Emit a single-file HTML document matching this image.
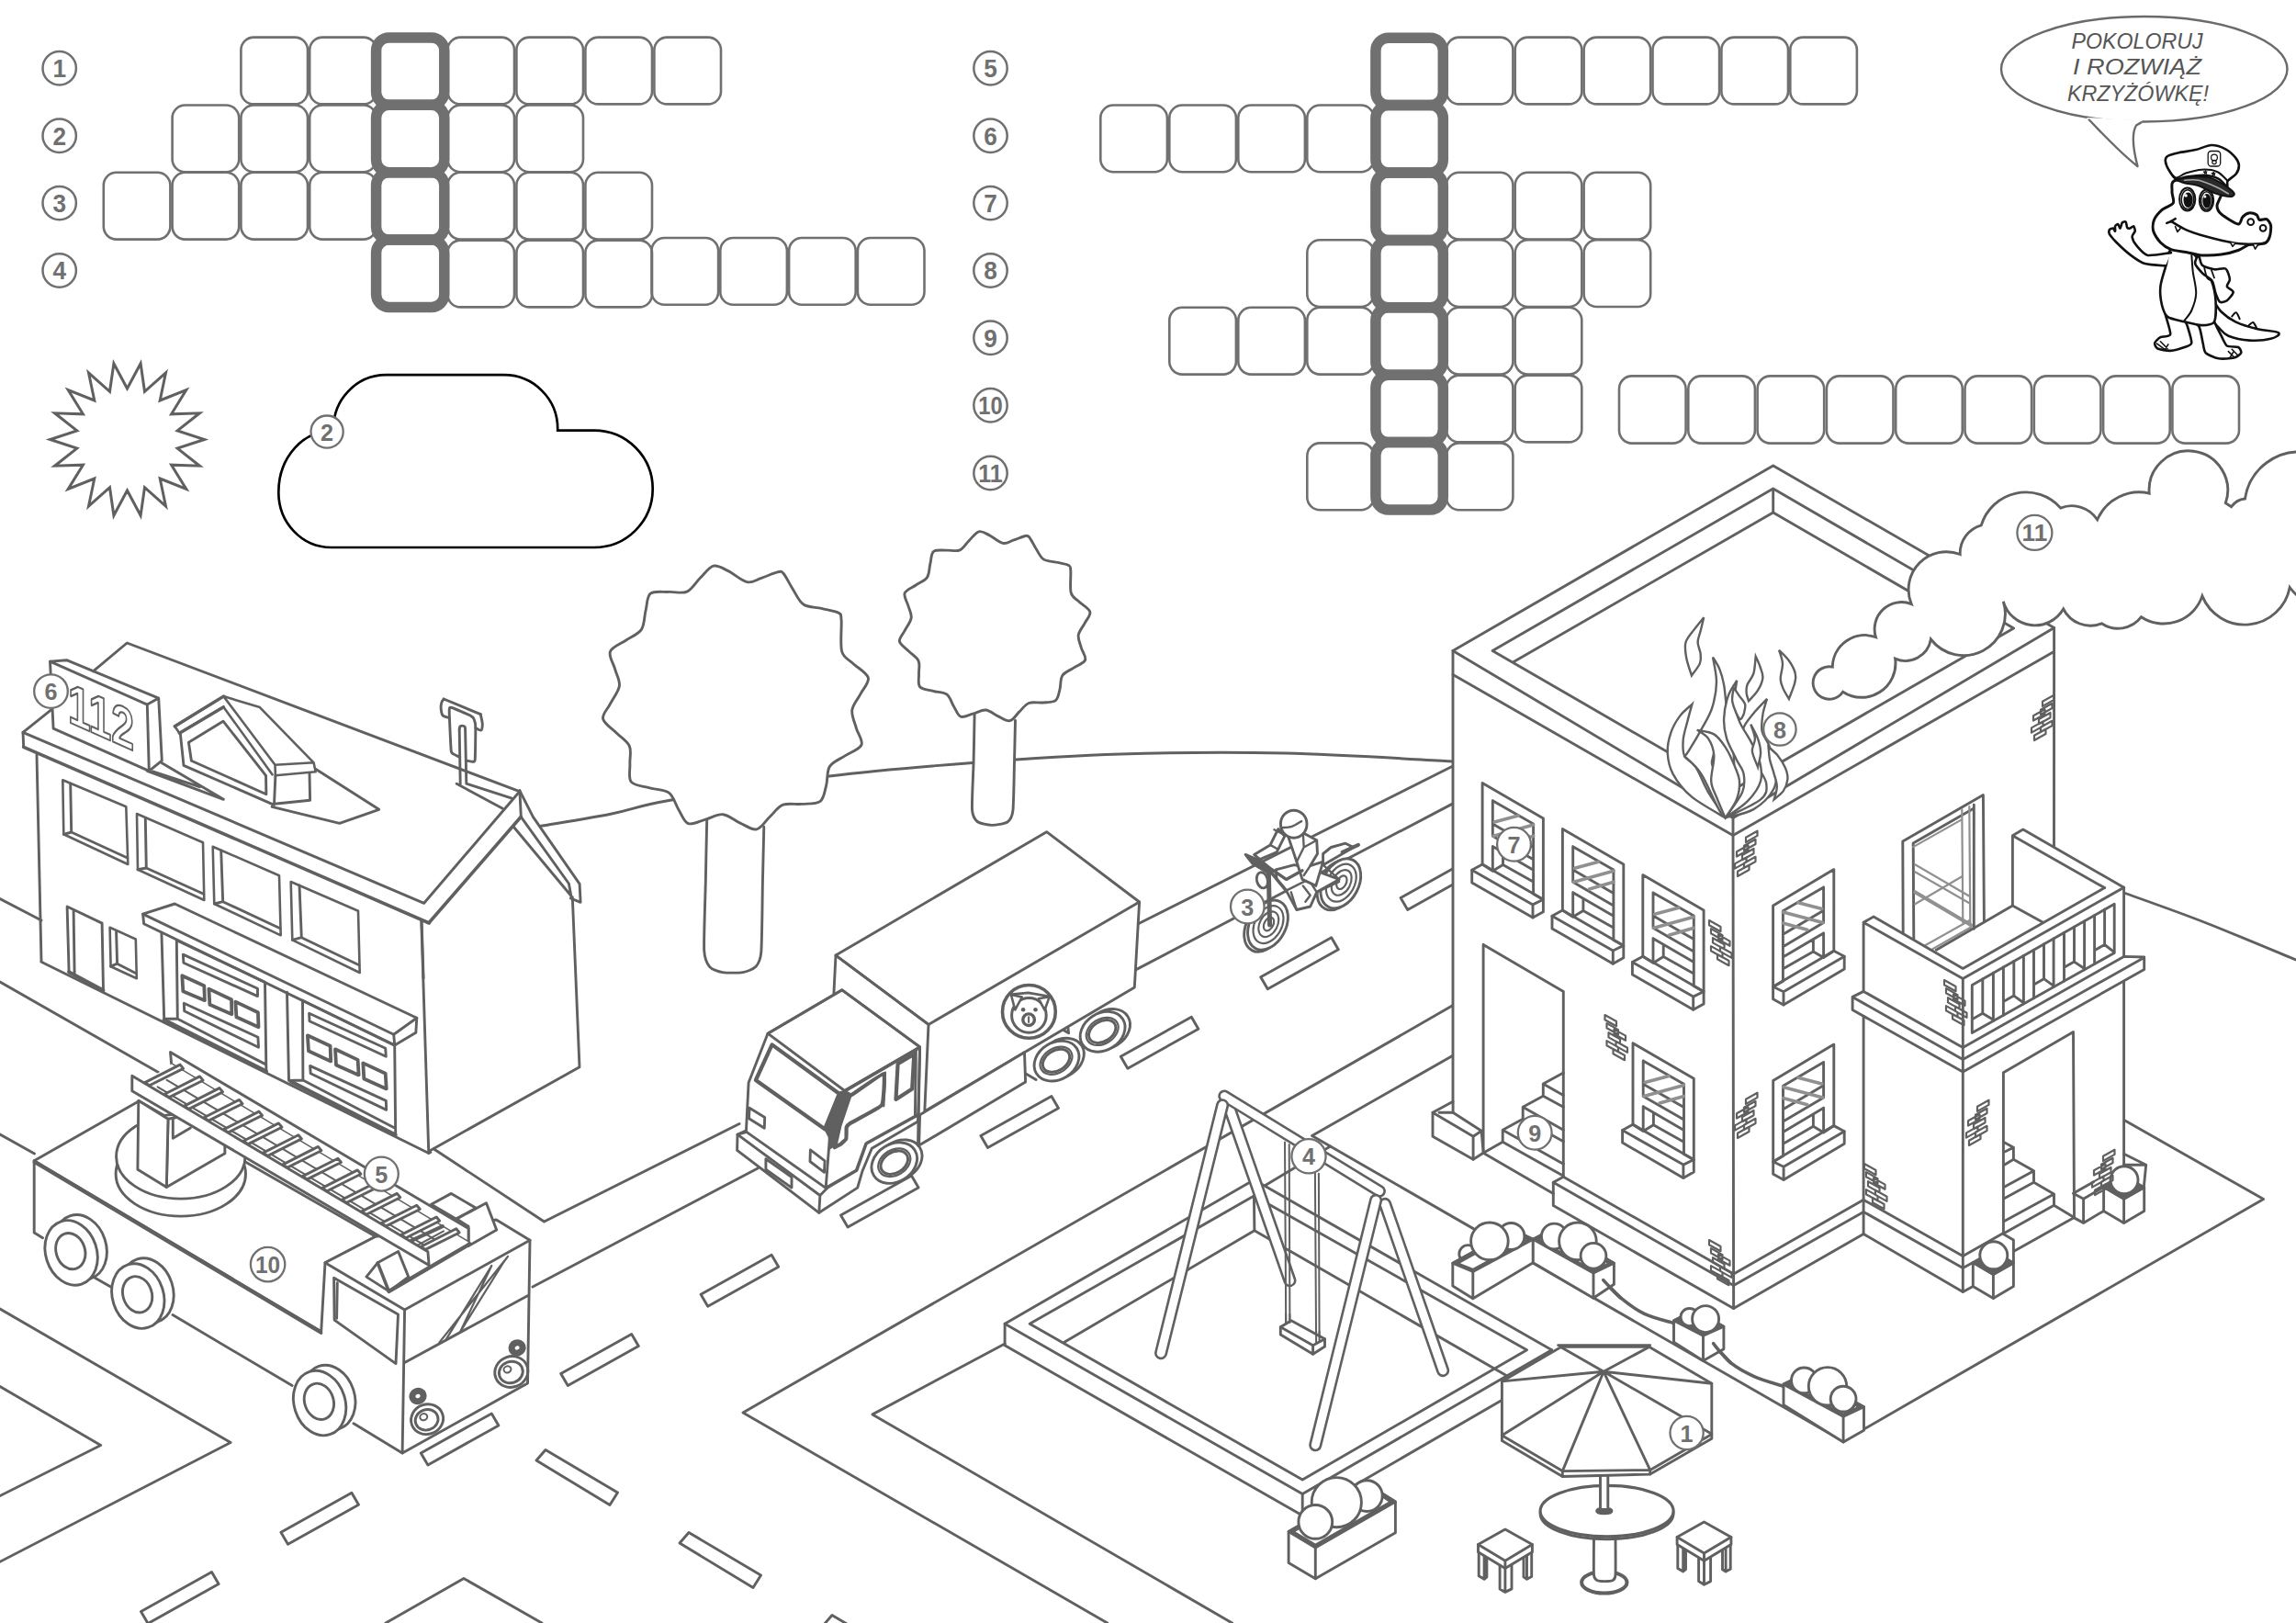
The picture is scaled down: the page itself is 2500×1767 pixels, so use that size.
<!DOCTYPE html>
<html lang="pl"><head><meta charset="utf-8"><title>Pokoloruj i rozwiąż krzyżówkę</title>
<style>
html,body{margin:0;padding:0;background:#fff;}
body{width:2500px;height:1767px;overflow:hidden;font-family:"Liberation Sans",sans-serif;}
svg{display:block;}
</style></head><body>
<svg xmlns="http://www.w3.org/2000/svg" width="2500" height="1767" viewBox="0 0 2500 1767">
<rect width="2500" height="1767" fill="#fff"/>
<g fill="none" stroke="#606060" stroke-width="2.9" stroke-linejoin="round" stroke-linecap="round">
<!-- sec_scene_bg -->
<path d="M0 978.5 L45 1002"/>
<path d="M0 1069 L172.5 1167.5"/>
<path d="M472.5 1251 L592.5 1330 L805 1223.5"/>
<path d="M0 1235 L37.5 1256"/>
<path d="M580 1401 L825 1272"/>
<path d="M0 1425 L251.1 1570.5 L0 1700.3"/>
<path d="M0 1509.5 L109.7 1573.5 L0 1628.5"/>
<path d="M420 1767 L505 1718.5 L590 1767"/>
<path d="M1582 1094.6 L809 1537.9 L1205.7 1767"/>
<path d="M1094.1 1463 L950 1539.9 L1341.6 1767"/>
<path d="M1581.9 1149.3 L1428.6 1236.6 L2007.4 1569.5"/>
<path d="M2028.8 1556.4 L2464.6 1305.6 L2312.5 1219.2"/>
<path d="M1376.9 1291.1 L1448.6 1248"/>
<path d="M2312.6 972 C2327.2 977.3 2368.8 991.8 2400 1004 C2431.2 1016.2 2483.3 1038.2 2500 1045"/>
<path d="M1238.4 1006.2 L1581 834.5"/>
<path d="M1236.6 1055.9 L1581 875.4"/>
<path d="M153.5 1754.6 l77 -43 l7.6 13 l-77 43Z M305.9 1668.2 l77 -43 l7.6 13 l-77 43Z M458.3 1581.9 l77 -43 l7.6 13 l-77 43Z M610.7 1495.6 l77 -43 l7.6 13 l-77 43Z M763.1 1409.2 l77 -43 l7.6 13 l-77 43Z M915.5 1322.9 l77 -43 l7.6 13 l-77 43Z M1067.9 1236.5 l77 -43 l7.6 13 l-77 43Z M1220.3 1150.2 l77 -43 l7.6 13 l-77 43Z M1372.7 1063.8 l77 -43 l7.6 13 l-77 43Z M1525.1 977.5 l77 -43 l7.6 13 l-77 43Z M584 1590 l10 -11.5 l78.5 46.5 l-8.5 13.5Z M740 1680 l10 -11.5 l78.5 46.5 l-8.5 13.5Z M896 1770 l10 -11.5 l78.5 46.5 l-8.5 13.5Z"/>
<!-- sec_station -->
<path d="M101.7 730.7 L138.3 700 L565.7 861.7 L461.7 983.3 L25 797.3 L55 773.3"/>
<path d="M25 797.3 L25.7 813.3"/>
<path d="M565.9 860.8 L567.3 889.3"/>
<path d="M25.7 813.3 L467.3 1005" stroke-width="3.6"/>
<path d="M467.2 1004.5 L567.3 889.3" stroke-width="3.6"/>
<path d="M565.9 860.8 L580.4 889.3 L631.1 962.4 L632.1 982.4 L621.4 978 M567.3 889.3 L619.4 962 L622 976.4 M559.3 900.3 L621.4 974.8"/>
<path d="M40 821.7 L45 1046.7"/>
<path d="M45 1047.2 L466.8 1255.5 L468.8 1254.5"/>
<path d="M459.1 1002.5 L461.1 1065"/>
<path d="M458.8 1003.1 L466.8 1255.5"/>
<path d="M623.3 976.7 L631 1161.7 L467.3 1253.3"/>
<path d="M54.5 720.1 L160.3 767.1 L162.3 839.3 L58.1 793.2Z" fill="#fff"/>
<path d="M54.5 720.1 L72.5 718.7 L172.7 760.1 L160.3 767.1 M172.7 760.1 L176.3 828.2 L162.3 839.3"/>
<path d="M190.3 790.8 L243.4 758.1 L282.9 770.1 L341.6 830.3 L343.6 840.3 L299.9 844.3 L299.5 832.7 L243.4 758.1 M190.3 790.8 L195.4 798.2 L243.4 769.7 L296.5 843.3 M299.5 832.7 L341.6 830.3" stroke-width="2.6"/>
<path d="M190.3 790.8 L243.4 758.1 M195.4 798.2 L243.4 769.7" stroke-width="3.4"/>
<path d="M196.4 799.2 L200 833.3 L298.5 876.3 L299.9 844.3 M298.5 875.3 L337.6 871.3 L337 842.3"/>
<path d="M205.4 808.2 L243 785.2 L289.5 844.3 L289.9 864.7 L208.4 828.2Z"/>
<path d="M160.3 839.3 L243.4 870.3 L176.3 830.7 M166.3 839.9 L217.4 856.7"/>
<path d="M343.6 837.3 L412.7 881.3 L369.7 896.4 L296.1 878.3"/>
<path d="M68.3 849.3 L137.3 878.3 L139.3 941 L69.3 908.3Z M149 886 L221 917.3 L222.3 980 L150 946.7Z M231.7 921.7 L304 953.3 L305.7 1018.3 L233.3 984Z M316.7 960 L390 991.7 L391.7 1059 L318.3 1023.3Z" stroke-width="2.6"/>
<path d="M76.7 853.3 L77.7 906 L138.7 934 M77.7 906 L69.3 908.3 M158.3 890.7 L159.3 945 L221.7 973.3 M159.3 945 L150 946.7 M240.7 926 L242.7 981.7 L305 1010.7 M242.7 981.7 L233.3 984 M326 964 L328.3 1020.7 L391 1050.7 M328.3 1020.7 L318.3 1023.3"/>
<path d="M75.1 1058.2 L73.1 987 L111.1 1005.1 L112.5 1078.2 M80.1 992.1 L81.1 1059.2"/>
<path d="M75.1 1058.2 L112.5 1078.2" stroke-width="4"/>
<path d="M119.6 1009.7 L147.8 1022.5 L148.8 1065.2 L120.6 1052.2Z" stroke-width="2.6"/>
<path d="M126.6 1014.5 L127.6 1049.2 L148.2 1059.8 M127.6 1049.2 L120.6 1052.2"/>
<path d="M155.6 995.1 L190.3 984 L453.8 1108.3 L428.7 1126.3Z"/>
<path d="M155.6 995.1 L156.6 1005.7 L429.7 1137.9 L428.7 1126.3 M453.8 1108.3 L452.8 1124.3 L429.7 1137.9"/>
<path d="M175.9 1015.1 L178.7 1109.3 L193.3 1109.3 L192.3 1023.7 L288.5 1069.2 L289.9 1166.4 M193.3 1109.3 L288.5 1158.4"/>
<path d="M178.7 1110.3 L289.9 1166.4" stroke-width="4"/>
<path d="M312.5 1080.2 L314.5 1176.4 L329.9 1176 L329.5 1089.2 M329.9 1176 L428.7 1227.5 M429.7 1138.3 L430.7 1235.5 M329.5 1089.2 L429.7 1138.3"/>
<path d="M316.5 1177.4 L430.7 1235.5" stroke-width="4"/>
<path d="M199.3 1039.1 L280.5 1076.2 L280.5 1084.6 L199.9 1048.2Z" stroke-linejoin="round"/>
<path d="M200.3 1092.2 L280.9 1129.3 L281.5 1140.3 L200.7 1100.7Z" stroke-linejoin="round"/>
<path d="M336.6 1103.3 L419.7 1141.3 L420.3 1150.3 L337 1111.7Z" stroke-linejoin="round"/>
<path d="M337.6 1160.4 L420.3 1198.4 L420.7 1208.4 L338.2 1168.8Z" stroke-linejoin="round"/>
<path d="M198.3 1062.2 L222.3 1073.2 L222.9 1089.2 L199.3 1079.2Z M227.4 1076.6 L252 1088.2 L252.4 1104.3 L228.4 1093.8Z M256.4 1090.6 L280.9 1102.3 L281.5 1118.3 L257.4 1107.3Z M334.9 1127.3 L359.6 1138.7 L360.2 1155.4 L336 1144.3Z M365 1142.3 L389.6 1153.9 L390.6 1170.4 L366 1159.4Z M395.3 1157.4 L419.7 1168.8 L420.7 1185.4 L396.3 1174.4Z" stroke-width="3.8"/>
<path d="M500.2 793.7 L501.2 854.2 M506.6 793.7 L507.8 852.2 M497.2 853.2 L547.3 880.3 M507.8 853.2 L557.3 869.2"/>
<path d="M500.2 793.7 C500.3 793.3 500.3 791.7 500.8 791.1 C501.4 790.5 502.6 790.1 503.4 790.1 C504.3 790.1 505.5 790.5 506 791.1 C506.6 791.7 506.5 793.3 506.6 793.7"/>
<path d="M488.8 781.5 C487.9 781.2 483.3 780.3 482.2 779.1 C481 777.8 480.4 773.9 480.2 772.1 C480 770.2 480.4 766.5 480.8 765 C481.2 763.6 482.9 761.6 483.2 761"/>
<path d="M483.2 761 L523.3 777.7"/>
<path d="M523.3 777.7 C523.5 779.1 525.2 785.8 525.3 788.1 C525.3 790.4 524.8 794.5 523.9 795.1 C522.9 795.7 518.6 792.8 517.8 792.5"/>
<path d="M500.2 824.2 C499.7 823.9 495 821.7 494.2 821.1 C493.5 820.6 491.6 821.1 491.2 817.1 C490.8 813.1 489.1 776.9 489.2 773.1 C489.3 769.2 490.3 770 492.2 770.5 C494.1 771 510.2 778 512.2 779.1 C514.2 780.1 515.8 782 516.2 783.1 C516.7 784.2 517.8 788.8 517.8 792.5 C517.9 796.2 517.5 824.1 517.2 827.2 C516.9 830.2 515 829.1 514.2 829.2 C513.5 829.2 508.7 828.2 508.2 828.2"/>
<text transform="matrix(1 0.445 0 1 74.1 785.8)" x="0" y="0" font-family="'Liberation Sans', sans-serif" font-weight="bold" font-size="62" textLength="72" lengthAdjust="spacingAndGlyphs" fill="#fff" stroke="#606060" stroke-width="2.2">112</text>
<!-- sec_trees -->
<path d="M588 899.5 C601 897.2 642.2 890.8 666 886 C689.8 881.2 691.5 877.8 731 871 C770.5 864.2 848.3 851.8 903 845 C957.7 838.2 1006.2 834.5 1059 830.5 C1111.8 826.5 1163.2 822.8 1220 821 C1276.8 819.2 1339.7 818.7 1400 820 C1460.3 821.3 1551.7 827.5 1582 829"/>
<path d="M769.7 893.3 C769.5 901.1 768.6 943.9 768.3 960.4 C767.9 976.9 766.2 1023.8 766.7 1034.5 C767.2 1045.3 770.4 1049.8 772.7 1052.6 C775 1055.4 782.5 1057.9 786.7 1058.6 C790.9 1059.3 804.6 1059.3 808.8 1058.6 C813 1057.9 820.5 1055.1 822.8 1052.6 C825.1 1050 827.9 1047.3 828.8 1036.5 C829.7 1025.8 830.1 976.3 830.4 960.4 C830.8 944.5 831.6 907.3 831.8 900.3" fill="#fff"/>
<path d="M776.8 616.2 C781.8 614.9 786.4 618.5 792.5 621.4 C798.6 624.3 807.3 632.4 813.4 633.7 C819.5 635 823.4 631.1 829.1 629.3 C834.7 627.4 843.3 623.5 847.3 622.7 C851.4 622 850.7 621.8 853.4 624.8 C856 627.9 859.5 635.5 863 641 C866.6 646.5 869.6 654.4 874.8 658 C880 661.6 888.1 660.9 894.4 662.4 C900.7 664 909.1 665.1 912.7 667.1 C916.3 669.2 915.4 668 916.1 675 C916.7 682 914.6 701.1 916.6 709 C918.6 716.8 923.6 717.2 928.4 722 C933.2 726.8 943.8 732.3 945.3 737.7 C946.9 743.1 940.4 748.8 937.5 754.7 C934.6 760.6 928.7 766.7 927.8 773 C927 779.3 930.6 786.3 932.3 792.6 C934 798.9 940 805.9 938 810.9 C936.1 815.9 926.3 818.7 920.5 822.6 C914.8 826.5 907 828.9 903.5 834.4 C900 839.8 901.4 849 899.6 855.3 C897.9 861.6 897.4 868.9 893.1 872.3 C888.7 875.6 880.2 874.8 873.5 875.4 C866.7 876.1 858.5 873.9 852.6 876.2 C846.7 878.5 843 884.8 838.2 889.3 C833.4 893.7 829.3 901.8 823.8 902.9 C818.4 903.9 811.6 898.5 805.5 895.8 C799.4 893.1 793.6 887.2 787.2 886.7 C780.9 886.1 774 890.7 767.6 892.4 C761.3 894.1 754.1 898.4 749.4 896.6 C744.6 894.8 742.4 887 738.9 881.4 C735.4 875.9 733.7 867.1 728.4 863.1 C723.2 859.2 714.4 859.9 707.5 857.9 C700.7 855.9 691 855.7 687.4 851.4 C683.8 847 686.2 838.3 685.9 831.8 C685.5 825.2 687.8 817.8 685.3 812.2 C682.8 806.5 675.7 802.7 671 797.8 C666.2 792.9 657.7 787.9 656.6 782.6 C655.5 777.4 661.5 772.4 664.4 766.4 C667.4 760.5 673.5 753.2 674.4 746.8 C675.2 740.5 671.3 734.8 669.7 728.6 C668 722.3 662.5 714.7 664.4 709.5 C666.4 704.2 675.7 701.2 681.4 697.2 C687.1 693.2 694.8 690.9 698.4 685.4 C702 680 701.4 671.1 703.1 664.5 C704.8 658 704.1 649.6 708.3 646.2 C712.6 642.9 721.8 644.8 728.4 644.4 C735.1 644.1 742.4 646.7 748 644.1 C753.7 641.6 757.6 633.9 762.4 629.3 C767.2 624.6 771.8 617.5 776.8 616.2Z" fill="#fff"/>
<path d="M1061.1 778.2 C1061 784.1 1060.4 817.1 1060.1 829.2 C1059.8 841.2 1058 873.8 1058.5 881.4 C1059 889 1061.7 892.5 1064.2 894.5 C1066.7 896.5 1076.1 898.4 1079.9 898.4 C1083.7 898.5 1094.2 896.8 1096.9 895 C1099.6 893.2 1102 890.4 1102.9 882.7 C1103.8 875 1104.2 840.7 1104.5 829.2 C1104.8 817.7 1105.4 789.5 1105.5 784.2" fill="#fff"/>
<path d="M1065.8 578.8 C1069.4 577.9 1072.7 580.5 1077.1 582.6 C1081.4 584.7 1087.7 590.5 1092.1 591.4 C1096.4 592.4 1099.3 589.5 1103.3 588.2 C1107.4 586.9 1113.6 584.1 1116.5 583.5 C1119.4 583 1118.9 582.8 1120.8 585 C1122.7 587.2 1125.2 592.7 1127.7 596.7 C1130.3 600.6 1132.4 606.3 1136.2 608.9 C1139.9 611.4 1145.7 611 1150.2 612.1 C1154.8 613.1 1160.8 613.9 1163.4 615.4 C1166 616.9 1165.3 616.1 1165.8 621.1 C1166.3 626.1 1164.7 639.8 1166.2 645.4 C1167.7 651.1 1171.2 651.4 1174.6 654.8 C1178.1 658.3 1185.7 662.2 1186.8 666.1 C1187.9 670 1183.3 674.1 1181.2 678.3 C1179.1 682.5 1174.9 686.9 1174.2 691.4 C1173.6 696 1176.2 701 1177.4 705.5 C1178.7 710 1183 715 1181.6 718.6 C1180.2 722.2 1173.1 724.3 1169 727.1 C1164.9 729.9 1159.3 731.6 1156.8 735.5 C1154.3 739.4 1155.2 746 1154 750.5 C1152.7 755.1 1152.4 760.3 1149.3 762.7 C1146.2 765.1 1140.1 764.5 1135.2 765 C1130.4 765.4 1124.4 763.9 1120.2 765.5 C1116 767.2 1113.3 771.7 1109.9 774.9 C1106.5 778.1 1103.5 783.9 1099.6 784.7 C1095.7 785.5 1090.8 781.5 1086.4 779.6 C1082.1 777.7 1077.8 773.4 1073.3 773 C1068.8 772.6 1063.8 776 1059.2 777.2 C1054.7 778.4 1049.5 781.5 1046.1 780.2 C1042.7 778.9 1041.1 773.3 1038.6 769.3 C1036.1 765.3 1034.8 759 1031.1 756.2 C1027.3 753.3 1021 753.8 1016.1 752.4 C1011.2 751 1004.2 750.8 1001.6 747.7 C999 744.6 1000.8 738.3 1000.5 733.6 C1000.3 728.9 1001.9 723.6 1000.1 719.6 C998.3 715.5 993.3 712.8 989.8 709.2 C986.4 705.7 980.3 702.1 979.5 698.4 C978.7 694.6 983 691 985.1 686.7 C987.2 682.4 991.6 677.2 992.2 672.7 C992.9 668.1 990.1 664 988.9 659.5 C987.7 655 983.7 649.6 985.1 645.8 C986.5 642.1 993.3 639.9 997.3 637 C1001.4 634.1 1006.9 632.5 1009.5 628.6 C1012.1 624.7 1011.7 618.2 1012.9 613.6 C1014.1 608.9 1013.6 602.8 1016.6 600.4 C1019.7 598 1026.3 599.4 1031.1 599.1 C1035.8 598.9 1041.1 600.7 1045.2 598.9 C1049.2 597.1 1052 591.6 1055.5 588.2 C1058.9 584.9 1062.2 579.8 1065.8 578.8Z" fill="#fff"/>
<!-- sec_truck -->
<ellipse cx="1206.1" cy="1120.4" rx="25.9" ry="20.1" transform="rotate(-32 1206.1 1120.4)" fill="#fff"/>
<ellipse cx="1200.6" cy="1123.3" rx="25.9" ry="20.1" transform="rotate(-32 1200.6 1123.3)" fill="#fff"/>
<ellipse cx="1200.2" cy="1122.9" rx="18.8" ry="13.4" transform="rotate(-32 1200.2 1122.9)" stroke-width="2.2"/>
<ellipse cx="1200.2" cy="1122.9" rx="15.9" ry="10.9" transform="rotate(-32 1200.2 1122.9)" stroke-width="3"/>
<path d="M1156.3 1120.6 L1163.6 1124.8 L1162.6 1116.4"/>
<ellipse cx="1155.9" cy="1152.2" rx="25.9" ry="20.1" transform="rotate(-32 1155.9 1152.2)" fill="#fff"/>
<ellipse cx="1150.5" cy="1155.1" rx="25.9" ry="20.1" transform="rotate(-32 1150.5 1155.1)" fill="#fff"/>
<ellipse cx="1150" cy="1154.7" rx="18.8" ry="13.4" transform="rotate(-32 1150 1154.7)" stroke-width="2.2"/>
<ellipse cx="1150" cy="1154.7" rx="15.9" ry="10.9" transform="rotate(-32 1150 1154.7)" stroke-width="3"/>
<path d="M910 1040.1 L1139.6 905.7 L1240.6 982 L1235.3 1075 L1006.8 1209.9 L1011 1115.4Z" fill="#fff"/>
<path d="M910 1040.1 L1011 1115.4 L1240.6 982 M910 1040.1 L907.9 1081.9"/>
<path d="M1001.6 1213.7 L1115.5 1145.7 L1116.6 1178.1 L1000.6 1247.1Z" fill="#fff"/>
<path d="M1116.6 1168.7 L1128.1 1175.4"/>
<circle cx="1120.4" cy="1101.4" r="28.9" stroke-width="3.6" fill="#fff"/>
<circle cx="1120.4" cy="1105.4" r="18.8" stroke-width="3"/>
<path d="M1100.9 1083 L1112.8 1085.5 L1105.3 1099.3Z M1142.7 1085.1 L1130.8 1087.2 L1137.5 1099.7Z" stroke-width="2.6" fill="#fff"/>
<path d="M1101.5 1082.6 L1119.7 1080.9 L1142.1 1084.7" stroke-width="2.6"/>
<circle cx="1114.1" cy="1099.3" r="2.3" fill="#606060" stroke="none"/>
<circle cx="1127.5" cy="1099.3" r="2.3" fill="#606060" stroke="none"/>
<circle cx="1120.1" cy="1110.2" r="6.3" stroke-width="3.4"/>
<path d="M1120.1 1107.2 L1120.1 1113.1" stroke-width="2"/>
<ellipse cx="979.2" cy="1263.2" rx="26.3" ry="20.5" transform="rotate(-32 979.2 1263.2)" fill="#fff"/>
<ellipse cx="973.8" cy="1266.1" rx="26.3" ry="20.5" transform="rotate(-32 973.8 1266.1)" fill="#fff"/>
<ellipse cx="973.8" cy="1265.7" rx="18.8" ry="13.8" transform="rotate(-32 973.8 1265.7)" stroke-width="2.2"/>
<ellipse cx="973.8" cy="1265.7" rx="15.9" ry="11.3" transform="rotate(-32 973.8 1265.7)" stroke-width="3"/>
<path d="M836 1125.2 L815.1 1178.7 L812.4 1232.5 L803 1235.2 L802.6 1252.3 L891.8 1320.3 L933.7 1293.1 L938.9 1275.3 L949.3 1250.2 L999.5 1221 L1001.6 1139.9 L916.9 1077.8Z" fill="#fff"/>
<path d="M836 1125.2 L916.9 1077.8 L1001.6 1139.9 L919.7 1187.5Z"/>
<path d="M1001.6 1139.9 L999.5 1247.1 M997.4 1142.6 L996.4 1215.8"/>
<path d="M803 1235.2 L811.4 1231.4 L900.2 1294.1 L892.9 1301.5 L803 1235.2 M892.9 1301.5 L891.8 1320.3"/>
<path d="M903.3 1239.8 L899.2 1293.1"/>
<path d="M900.2 1293.1 L932.6 1274.3 L943.1 1245 L999.5 1213.7" stroke-width="3.6"/>
<path d="M816 1206.3 L832.7 1216.4 L832.3 1228.3 L815.5 1217.8Z M882.4 1251.9 L898.1 1263.8 L897.5 1276.4 L882 1264.5Z M833.9 1261.7 L862 1281.6 L862 1293.1 L833.9 1273.2Z"/>
<path d="M840.6 1137.4 L913.8 1190.7 L898.1 1229.3 L822.9 1176Z" stroke-width="4.2"/>
<path d="M919.7 1187.5 L927.4 1191.3 L915.9 1225.2 L911.3 1245 L903.8 1250.7 L902.3 1237.7 L897.5 1228.3 L913.8 1189.2Z" stroke-width="1.5" fill="#606060"/>
<path d="M919.7 1187.9 L999.5 1141.5" stroke-width="3.6"/>
<path d="M927.4 1192.1 C929.1 1191 960.7 1168.6 962.3 1169.1 C963.9 1169.7 962 1200.5 960.2 1203.2 C958.4 1205.9 928.3 1221.4 926.3 1222.6 C924.4 1223.9 922 1226.4 921.7 1227.2 C921.5 1228.1 921.7 1238.9 921.3 1239.8 C921 1240.7 915.5 1245.6 914.8 1246.1 C914.2 1246.5 908.9 1249 908.6 1249.2" stroke-width="4.2"/>
<path d="M964 1167.7 L962.3 1204.3" stroke-width="2.2"/>
<path d="M977.6 1158.3 L995.3 1147.8 L993.2 1185.4 L975.5 1196.9Z" stroke-width="4.2"/>
<!-- sec_moto -->
<ellipse cx="1456" cy="963.8" rx="19.5" ry="28.8" transform="rotate(28 1456 963.8)" fill="#fff"/>
<ellipse cx="1459.8" cy="961.8" rx="19.5" ry="28.8" transform="rotate(28 1459.8 961.8)" fill="#fff"/>
<ellipse cx="1460.3" cy="961.2" rx="14.6" ry="21.8" transform="rotate(28 1460.3 961.2)" stroke-width="2.2"/>
<ellipse cx="1460.7" cy="960.9" rx="9.6" ry="14.8" transform="rotate(28 1460.7 960.9)" stroke-width="2.2"/>
<ellipse cx="1460.9" cy="960.7" rx="4.9" ry="7.8" transform="rotate(28 1460.9 960.7)" stroke-width="2.2"/>
<ellipse cx="1376.6" cy="1009.2" rx="19.5" ry="28.8" transform="rotate(28 1376.6 1009.2)" fill="#fff"/>
<ellipse cx="1380.5" cy="1007.1" rx="19.5" ry="28.8" transform="rotate(28 1380.5 1007.1)" fill="#fff"/>
<ellipse cx="1381" cy="1006.6" rx="14.6" ry="21.8" transform="rotate(28 1381 1006.6)" stroke-width="2.2"/>
<ellipse cx="1381.3" cy="1006.2" rx="9.6" ry="14.8" transform="rotate(28 1381.3 1006.2)" stroke-width="2.2"/>
<ellipse cx="1381.5" cy="1006" rx="4.9" ry="7.8" transform="rotate(28 1381.5 1006)" stroke-width="2.2"/>
<path d="M1389.2 946.9 L1409.2 941.7 L1424.9 945.2 L1458.1 957.4 L1433.7 971.3 L1426.7 987 L1411.9 990.5 L1400.5 969.6 L1390.1 957.4Z" fill="#fff"/>
<path d="M1400.5 969.6 L1424.9 957.4 L1433.7 971.3 M1405.8 971.3 L1411.9 990.5 M1424.9 957.4 L1431.9 945.2 L1440.6 941.7 L1458.1 957.4 M1433.7 971.3 L1458.1 960 M1418.8 964.4 L1426.7 974.8 L1421.4 981.8" stroke-width="2.4"/>
<path d="M1440.6 929.5 L1449.3 922.5 L1465 918.2 L1473.8 922.5 L1452.8 934.7 L1440.6 941.7Z" fill="#fff"/>
<path d="M1461.6 927.8 L1479 919.9" stroke-width="4"/>
<path d="M1403.1 912.1 L1418.8 906.8 L1433.7 914.7 L1434.5 929.5 L1426.7 942.6 L1440.6 938.2 L1432.8 964.4 L1418 957.4 L1411.9 938.2Z" fill="#fff"/>
<path d="M1418.8 906.8 L1419.7 922.5 L1411.9 938.2 M1419.7 922.5 L1433.7 914.7 M1426.7 942.6 L1419.7 953" stroke-width="2.4"/>
<path d="M1391.8 902.5 L1383.1 919.9 L1365.6 930.4 L1371.8 935.6 L1390.1 927.8 L1398.8 910.3Z" fill="#fff"/>
<path d="M1387.4 903.3 L1396.2 907.7 M1383.1 919.9 L1390.9 924.3" stroke-width="2.4"/>
<ellipse cx="1408.7" cy="897.2" rx="14.3" ry="15" fill="#fff"/>
<path d="M1395.3 901.2 C1397.2 901 1403 901 1406.6 899.9 C1410.3 898.7 1415.3 895.1 1417.1 894.1" stroke-width="2.4"/>
<path d="M1356.1 930.4 L1374.4 938.2 L1385.2 946.9 L1382.2 951.3 L1363.9 940.3Z" fill="#606060"/>
<path d="M1381.3 946.9 L1382.6 1007.1" stroke-width="5"/>
<path d="M1383.1 948.7 L1400.5 969.6 M1385.2 946.9 L1400.5 957.4 L1418 947.8" stroke-width="3.4"/>
<ellipse cx="1374.4" cy="958.3" rx="5.9" ry="8.7" transform="rotate(-15 1374.4 958.3)" fill="#fff"/>
<!-- sec_fireengine -->
<path d="M37.2 1263.8 L151.4 1198.7 L409 1346.2 L354 1374.7 L349.7 1449.8Z" fill="#fff"/>
<path d="M37.2 1263.8 L37.2 1341.9 L46.5 1347.7 M37.2 1263.8 L349.7 1449.8"/>
<path d="M37.2 1265.3 L349.7 1451.3" stroke-width="3.2"/>
<path d="M188 1431.6 L318.1 1508.6 M385 1549.8 L438.1 1581.9 M103.4 1391.2 L121 1401.3"/>
<path d="M354 1374.7 L440.6 1426 L577 1350.2 L540.4 1328 L409 1346.2Z" fill="#fff"/>
<path d="M440.6 1426 L438.1 1581.9 L574.5 1506.1 L577 1350.2 M440.6 1483.4 L575.8 1410.1"/>
<path d="M363.6 1391.2 L433.5 1431.1 L431 1484.6 L364.1 1437.1Z"/>
<path d="M367.3 1396.7 L366.6 1435.4"/>
<path d="M478.5 1461.4 L553 1367.9 L548.5 1374 L501.2 1449.8 L535.3 1378 L485.3 1458.9" stroke-width="2.2"/>
<ellipse cx="465.1" cy="1545.2" rx="17.7" ry="16.2" transform="rotate(-20 465.1 1545.2)"/>
<ellipse cx="464.6" cy="1545.8" rx="12.6" ry="11.1" transform="rotate(-20 464.6 1545.8)"/>
<ellipse cx="461.3" cy="1542.7" rx="4" ry="3.5" transform="rotate(-20 461.3 1542.7)" stroke-width="2"/>
<ellipse cx="556.8" cy="1493.5" rx="18.2" ry="16.7" transform="rotate(-20 556.8 1493.5)"/>
<ellipse cx="556.3" cy="1494" rx="13.1" ry="11.6" transform="rotate(-20 556.3 1494)"/>
<ellipse cx="552.5" cy="1490.9" rx="4" ry="3.5" transform="rotate(-20 552.5 1490.9)" stroke-width="2"/>
<ellipse cx="455" cy="1520" rx="6.1" ry="5.6" transform="rotate(-20 455 1520)" stroke-width="7"/>
<ellipse cx="563.1" cy="1467.4" rx="6.1" ry="5.6" transform="rotate(-20 563.1 1467.4)" stroke-width="7"/>
<ellipse cx="87.7" cy="1357.8" rx="27.8" ry="35.9" transform="rotate(-18 87.7 1357.8)" fill="#fff"/>
<ellipse cx="77.6" cy="1363.9" rx="27.8" ry="35.9" transform="rotate(-18 77.6 1363.9)" fill="#fff"/>
<ellipse cx="76.8" cy="1362.1" rx="15.7" ry="20" transform="rotate(-18 76.8 1362.1)"/>
<ellipse cx="160.5" cy="1405" rx="27.8" ry="35.9" transform="rotate(-18 160.5 1405)" fill="#fff"/>
<ellipse cx="150.3" cy="1411.1" rx="27.8" ry="35.9" transform="rotate(-18 150.3 1411.1)" fill="#fff"/>
<ellipse cx="149.6" cy="1409.3" rx="15.7" ry="20" transform="rotate(-18 149.6 1409.3)"/>
<ellipse cx="358.3" cy="1521.5" rx="27.8" ry="35.9" transform="rotate(-18 358.3 1521.5)" fill="#fff"/>
<ellipse cx="348.1" cy="1527.6" rx="27.8" ry="35.9" transform="rotate(-18 348.1 1527.6)" fill="#fff"/>
<ellipse cx="347.4" cy="1525.8" rx="15.7" ry="20" transform="rotate(-18 347.4 1525.8)"/>
<ellipse cx="196.8" cy="1278.1" rx="70.7" ry="46" fill="#fff"/>
<ellipse cx="196.8" cy="1259.1" rx="70.2" ry="46" fill="#fff"/>
<path d="M183 1218.3 L181.3 1292.4 L244.9 1255.8 L244.1 1206.9Z" fill="#fff"/>
<path d="M150.8 1198.2 L149.9 1273.2 L181.3 1292.4 L183 1218.3Z" fill="#fff"/>
<path d="M188.3 1217.4 L188.3 1239.2 L207.4 1227.9"/>
<path d="M469.5 1311.2 L491.3 1299.4 L518.3 1315.3 L496.5 1327.1Z" fill="#fff"/>
<path d="M497.1 1327.1 L529.5 1309.7 L540.7 1338.9 L510.1 1356.5 L510.1 1335.3Z" fill="#fff"/>
<path d="M398.9 1390.1 L411.2 1374.8 L433.6 1362.4 L444.8 1390.1 L423.6 1405.9Z" fill="#fff"/>
<path d="M411.2 1374.8 L423 1404.8" stroke-width="3.6"/>
<path d="M423.6 1405.9 L511.3 1354.4" stroke-width="4.4"/>
<path d="M185.5 1145.5 L510.1 1337.5 L510.1 1352.6 L186.7 1158.6Z" fill="#fff"/>
<path d="M186.7 1158.6 L510.1 1352.6 L467.1 1377.4 L143.8 1187.2Z" fill="#fff" stroke="none"/>
<path d="M171.6 1183.4 L464.6 1357.2 M181.7 1175.8 L474.7 1350.1" stroke-width="2"/>
<path d="M157.7 1178.6 L196.1 1159.1 L199.6 1163.4 L162.7 1181.8Z" fill="#fff"/>
<path d="M179.1 1191.3 L217.5 1171.9 L221.1 1176.2 L184.2 1194.6Z" fill="#fff"/>
<path d="M200.6 1204.1 L239 1184.6 L242.6 1188.9 L205.7 1207.4Z" fill="#fff"/>
<path d="M222.1 1216.8 L260.5 1197.4 L264 1201.7 L227.1 1220.1Z" fill="#fff"/>
<path d="M243.6 1229.6 L282 1210.1 L285.5 1214.4 L248.6 1232.9Z" fill="#fff"/>
<path d="M265 1242.3 L303.4 1222.9 L307 1227.2 L270.1 1245.6Z" fill="#fff"/>
<path d="M286.5 1255.1 L324.9 1235.7 L328.4 1239.9 L291.6 1258.4Z" fill="#fff"/>
<path d="M308 1267.9 L346.4 1248.4 L349.9 1252.7 L313 1271.1Z" fill="#fff"/>
<path d="M329.5 1280.6 L367.9 1261.2 L371.4 1265.5 L334.5 1283.9Z" fill="#fff"/>
<path d="M350.9 1293.4 L389.3 1273.9 L392.9 1278.2 L356 1296.7Z" fill="#fff"/>
<path d="M372.4 1306.1 L410.8 1286.7 L414.3 1291 L377.4 1309.4Z" fill="#fff"/>
<path d="M393.9 1318.9 L432.3 1299.4 L435.8 1303.7 L398.9 1322.2Z" fill="#fff"/>
<path d="M415.3 1331.6 L453.7 1312.2 L457.3 1316.5 L420.4 1334.9Z" fill="#fff"/>
<path d="M436.8 1344.4 L475.2 1325 L478.7 1329.2 L441.9 1347.7Z" fill="#fff"/>
<path d="M458.3 1357.2 L496.7 1337.7 L500.2 1342 L463.3 1360.4Z" fill="#fff"/>
<path d="M447.7 1350.9 L481.8 1335.1" stroke-width="4.2"/>
<path d="M454.8 1355.6 L483 1340.3" stroke-width="2"/>
<path d="M143.8 1171.2 L465.9 1362.7 L467.1 1377.4 L143.8 1187.7Z" fill="#fff"/>
<!-- sec_building -->
<path d="M1582 708.4 L1930.7 507 L2236.6 683.5 L2236.6 925 L2312.6 966 L2312.6 1270 L2137 1406 L1887.6 1425 L1582 1250Z" fill="#fff" stroke="none"/>
<path d="M1582 708.4 L1930.7 507 L2236.6 683.5 L1887 890.5Z"/>
<path d="M1625.1 708.4 L1930.7 532.1 L2192.6 683.9 L1887 860Z"/>
<path d="M1648.2 720.4 L1930.7 558.1 L2170.1 696.8"/>
<path d="M1930.7 532.1 L1930.7 558.1"/>
<path d="M1582 708.4 L1582 1199.5"/>
<path d="M1887 890.5 L1887.6 1424.6"/>
<path d="M2236.6 683.5 L2236.5 921.5"/>
<path d="M1582 734.4 L1887 909.5 L2235.5 710"/>
<path d="M1615.1 1255.3 L1615.1 1028.5 M1702.3 1280.3 L1702.3 1079.6 M1615.1 1028.5 L1702.3 1079.6"/>
<path d="M1702.3 1168.1 L1680.3 1180.1 L1680.3 1193.2 L1702.3 1205.2 M1680.3 1180.1 L1702.3 1192.6 M1680.3 1193.2 L1658.2 1205.2 L1658.2 1218.2 L1702.3 1242.7 M1658.2 1205.2 L1702.3 1230.2 M1658.2 1218.2 L1636.2 1230.2 L1636.2 1243.3 L1702.3 1280.3 M1636.2 1230.2 L1702.3 1267.3 M1615.1 1255.3 L1636.2 1243.3"/>
<path d="M1560 1211.2 L1582.1 1199.2 L1582.1 1211.2 L1613.1 1231.2 L1615.1 1255.3 L1604.1 1262.3 L1560 1237.2Z" fill="#fff"/>
<path d="M1560 1211.2 L1604.1 1237.2 L1613.1 1231.2 M1604.1 1237.2 L1604.1 1262.3 M1567 1211.2 L1582.1 1211.2"/>
<path d="M1691.3 1287.3 L1702.3 1281.3 L1887.6 1386.9 L1887.6 1424.6 L1691.3 1312.4Z" fill="#fff"/>
<path d="M1691.3 1287.3 L1887.6 1399.5"/>
<path d="M1615.1 1255.3 L1691.3 1299.4"/>
<path d="M1887.6 1386.9 L2029.1 1306.3"/>
<path d="M1887.6 1399.5 L2029.1 1319.4"/>
<path d="M1887.6 1424.6 L2029.1 1343.4"/>
<path d="M1602.7 947.2 L1614.1 941 L1680.4 979.3 L1680.4 992.7 L1669 999.1 L1602.7 960.9Z" fill="#fff"/>
<path d="M1602.7 947.2 L1669 984.9 L1680.4 979.3 M1669 984.9 L1669 999.1 M1614.1 941 L1614.1 852.5 L1680.4 890.9 L1680.4 979.3 M1625.3 871.7 L1669.6 896.9 L1669.6 935.8 L1625.3 910.2 L1625.3 871.7 M1625.3 896.9 L1669.6 922.4 M1625.3 921.6 L1669.6 947.2 M1625.3 921.6 L1625.3 948.2 L1636.5 941.4 L1636.5 928.8 M1636.5 941.4 L1668.6 959.5 M1669.6 935.8 L1669.6 973.3 L1680.4 979.5 M1614.1 941 L1625.3 948.2"/>
<path d="M1627.1 895.1 L1653.1 888.1 M1626.1 910.2 L1669.6 898.1 M1643.1 917.8 L1669.6 910.2" stroke="#909090" stroke-width="3.6"/>
<path d="M1690 997.3 L1701.4 991.1 L1767.8 1029.4 L1767.8 1042.8 L1756.3 1049.2 L1690 1010.9Z" fill="#fff"/>
<path d="M1690 997.3 L1756.3 1035 L1767.8 1029.4 M1756.3 1035 L1756.3 1049.2 M1701.4 991.1 L1701.4 902.5 L1767.8 941 L1767.8 1029.4 M1712.7 921.8 L1756.9 947 L1756.9 985.9 L1712.7 960.3 L1712.7 921.8 M1712.7 947 L1756.9 972.5 M1712.7 971.7 L1756.9 997.3 M1712.7 971.7 L1712.7 998.3 L1723.9 991.5 L1723.9 978.9 M1723.9 991.5 L1755.9 1009.5 M1756.9 985.9 L1756.9 1023.4 L1767.8 1029.6 M1701.4 991.1 L1712.7 998.3"/>
<path d="M1714.5 945.2 L1740.5 938.2 M1713.5 960.3 L1756.9 948.2 M1730.5 967.9 L1756.9 960.3" stroke="#909090" stroke-width="3.6"/>
<path d="M1777.4 1047.4 L1788.8 1041.2 L1855.1 1079.5 L1855.1 1092.9 L1843.7 1099.3 L1777.4 1061Z" fill="#fff"/>
<path d="M1777.4 1047.4 L1843.7 1085.1 L1855.1 1079.5 M1843.7 1085.1 L1843.7 1099.3 M1788.8 1041.2 L1788.8 952.6 L1855.1 991.1 L1855.1 1079.5 M1800 971.9 L1844.3 997.1 L1844.3 1036 L1800 1010.3 L1800 971.9 M1800 997.1 L1844.3 1022.6 M1800 1021.8 L1844.3 1047.4 M1800 1021.8 L1800 1048.4 L1811.2 1041.6 L1811.2 1029 M1811.2 1041.6 L1843.3 1059.6 M1844.3 1036 L1844.3 1073.5 L1855.1 1079.7 M1788.8 1041.2 L1800 1048.4"/>
<path d="M1801.8 995.3 L1827.9 988.3 M1800.8 1010.3 L1844.3 998.3 M1817.8 1018 L1844.3 1010.3" stroke="#909090" stroke-width="3.6"/>
<path d="M1766.6 1230.5 L1778 1224.3 L1844.3 1262.5 L1844.3 1276 L1832.9 1282.4 L1766.6 1244.1Z" fill="#fff"/>
<path d="M1766.6 1230.5 L1832.9 1268.1 L1844.3 1262.5 M1832.9 1268.1 L1832.9 1282.4 M1778 1224.3 L1778 1135.7 L1844.3 1174.2 L1844.3 1262.5 M1789.2 1154.9 L1833.5 1180.2 L1833.5 1219.1 L1789.2 1193.4 L1789.2 1154.9 M1789.2 1180.2 L1833.5 1205.6 M1789.2 1204.8 L1833.5 1230.5 M1789.2 1204.8 L1789.2 1231.5 L1800.4 1224.7 L1800.4 1212 M1800.4 1224.7 L1832.5 1242.7 M1833.5 1219.1 L1833.5 1256.5 L1844.3 1262.7 M1778 1224.3 L1789.2 1231.5"/>
<path d="M1791 1178.4 L1817.1 1171.4 M1790 1193.4 L1833.5 1181.4 M1807.1 1201 L1833.5 1193.4" stroke="#909090" stroke-width="3.6"/>
<path d="M2008.2 1041.3 L1996.8 1035.2 L1930.6 1074.3 L1930.6 1087.7 L1942 1094 L2008.2 1054.9Z" fill="#fff"/>
<path d="M2008.2 1041.3 L1942 1079.8 L1930.6 1074.3 M1942 1079.8 L1942 1094 M1996.8 1035.2 L1996.8 946.6 L1930.6 986 L1930.6 1074.3 M1985.6 966 L1941.4 991.8 L1941.4 1030.7 L1985.6 1004.5 L1985.6 966 M1985.6 991.3 L1941.4 1017.3 M1985.6 1015.9 L1941.4 1042.1 M1985.6 1015.9 L1985.6 1042.5 L1974.4 1035.9 L1974.4 1023.3 M1974.4 1035.9 L1942.4 1054.3 M1941.4 1030.7 L1941.4 1068.2 L1930.6 1074.5 M1996.8 1035.2 L1985.6 1042.5"/>
<path d="M1983.8 989.5 L1957.8 982.8 M1984.8 1004.5 L1941.4 993 M1967.8 1012.3 L1941.4 1005" stroke="#909090" stroke-width="3.6"/>
<path d="M2008.2 1231.7 L1996.8 1225.6 L1930.7 1264.7 L1930.7 1278.2 L1942.1 1284.4 L2008.2 1245.3Z" fill="#fff"/>
<path d="M2008.2 1231.7 L1942.1 1270.2 L1930.7 1264.7 M1942.1 1270.2 L1942.1 1284.4 M1996.8 1225.6 L1996.8 1137.1 L1930.7 1176.4 L1930.7 1264.7 M1985.6 1156.4 L1941.5 1182.3 L1941.5 1221.1 L1985.6 1194.9 L1985.6 1156.4 M1985.6 1181.7 L1941.5 1207.7 M1985.6 1206.3 L1941.5 1232.6 M1985.6 1206.3 L1985.6 1233 L1974.4 1226.3 L1974.4 1213.7 M1974.4 1226.3 L1942.5 1244.8 M1941.5 1221.1 L1941.5 1258.6 L1930.7 1264.9 M1996.8 1225.6 L1985.6 1233"/>
<path d="M1983.8 1179.9 L1957.9 1173.2 M1984.8 1194.9 L1941.5 1183.5 M1967.9 1202.8 L1941.5 1195.5" stroke="#909090" stroke-width="3.6"/>
<path d="M1747.5 1105 L1760 1112 L1760 1117.2 L1747.5 1110.2Z M1749.5 1114.1 L1762 1121.1 L1762 1126.3 L1749.5 1119.3Z M1757.5 1120.6 L1770 1127.6 L1770 1132.8 L1757.5 1125.8Z M1751.5 1124.2 L1764 1131.2 L1764 1136.4 L1751.5 1129.4Z M1759.5 1133.7 L1772 1140.7 L1772 1145.9 L1759.5 1138.9Z M1749.5 1133.1 L1762 1140.1 L1762 1145.3 L1749.5 1138.3Z M1756.5 1142 L1769 1149 L1769 1154.2 L1756.5 1147.2Z" stroke-width="2.2"/>
<path d="M1861 1002 L1873.5 1009 L1873.5 1014.2 L1861 1007.2Z M1863 1011.1 L1875.5 1018.1 L1875.5 1023.3 L1863 1016.3Z M1871 1017.6 L1883.5 1024.6 L1883.5 1029.8 L1871 1022.8Z M1865 1021.2 L1877.5 1028.2 L1877.5 1033.4 L1865 1026.4Z M1873 1030.7 L1885.5 1037.7 L1885.5 1042.9 L1873 1035.9Z M1863 1030.1 L1875.5 1037.1 L1875.5 1042.3 L1863 1035.3Z M1870 1039 L1882.5 1046 L1882.5 1051.2 L1870 1044.2Z" stroke-width="2.2"/>
<path d="M1861 1350 L1873.5 1357 L1873.5 1362.2 L1861 1355.2Z M1863 1359.1 L1875.5 1366.1 L1875.5 1371.3 L1863 1364.3Z M1871 1365.6 L1883.5 1372.6 L1883.5 1377.8 L1871 1370.8Z M1865 1369.2 L1877.5 1376.2 L1877.5 1381.4 L1865 1374.4Z M1873 1378.7 L1885.5 1385.7 L1885.5 1390.9 L1873 1383.9Z M1863 1378.1 L1875.5 1385.1 L1875.5 1390.3 L1863 1383.3Z M1870 1387 L1882.5 1394 L1882.5 1399.2 L1870 1392.2Z" stroke-width="2.2"/>
<path d="M1901 911.7 L1913.5 904.7 L1913.5 909.9 L1901 916.9Z M1899 920.8 L1911.5 913.8 L1911.5 919 L1899 926Z M1891 927.3 L1903.5 920.3 L1903.5 925.5 L1891 932.5Z M1897 931 L1909.5 924 L1909.5 929.2 L1897 936.2Z M1889 940.4 L1901.5 933.4 L1901.5 938.6 L1889 945.6Z M1899 939.8 L1911.5 932.8 L1911.5 938 L1899 945Z M1892 948.8 L1904.5 941.8 L1904.5 947 L1892 954Z" stroke-width="2.2"/>
<path d="M1901 1196.7 L1913.5 1189.7 L1913.5 1194.9 L1901 1201.9Z M1899 1205.8 L1911.5 1198.8 L1911.5 1204 L1899 1211Z M1891 1212.3 L1903.5 1205.3 L1903.5 1210.5 L1891 1217.5Z M1897 1216 L1909.5 1209 L1909.5 1214.2 L1897 1221.2Z M1889 1225.4 L1901.5 1218.4 L1901.5 1223.6 L1889 1230.6Z M1899 1224.8 L1911.5 1217.8 L1911.5 1223 L1899 1230Z M1892 1233.8 L1904.5 1226.8 L1904.5 1232 L1892 1239Z" stroke-width="2.2"/>
<path d="M2224 763.7 L2236.5 756.7 L2236.5 761.9 L2224 768.9Z M2222 772.8 L2234.5 765.8 L2234.5 771 L2222 778Z M2214 779.3 L2226.5 772.3 L2226.5 777.5 L2214 784.5Z M2220 783 L2232.5 776 L2232.5 781.2 L2220 788.2Z M2212 792.4 L2224.5 785.4 L2224.5 790.6 L2212 797.6Z M2222 791.8 L2234.5 784.8 L2234.5 790 L2222 797Z M2215 800.8 L2227.5 793.8 L2227.5 799 L2215 806Z" stroke-width="2.2"/>
<path d="M2029.1 1004.3 L2040.1 997.9 L2071.8 1016.3 L2071.8 916.1 L2159.4 865.6 L2160.4 1003.3 L2191.4 985.3 L2191.4 909.7 L2202.8 903.1 L2312.6 966.2 L2312.6 1041.4 L2334.7 1042 L2334.7 1055.4 L2312.6 1068.4 L2312.6 1268.8 L2137.3 1407 L2029.1 1343.3 L2029.1 1106.5 L2017.1 1099.5 L2017.1 1085.4 L2029.1 1079.4Z" fill="#fff" stroke="none"/>
<path d="M2072.2 1016.3 L2071.8 916.1 L2159.4 865.6 L2160.4 1003.3 M2083.8 1021.9 L2083.2 918.1 L2149.3 880.1 M2149.3 876.1 L2149.3 1011.3"/>
<path d="M2136.3 881.1 L2137.3 1004.3 M2144.3 878.1 L2145.3 1007.3 M2083.2 922.1 L2136.3 892.1 M2085.2 941.2 L2145.3 976.2 M2085.2 949.2 L2144.3 983.3 M2085.2 984.3 L2136.3 954.2 M2096.2 1029.3 L2144.3 1002.3 M2104.3 1033.3 L2146.3 1009.3" stroke-width="2.2" stroke="#909090"/>
<path d="M2085.2 971.2 L2146.3 1007.3" stroke-width="4" stroke="#909090"/>
<path d="M2108.3 1034.3 L2191.4 985.9 L2224.5 1004.3"/>
<path d="M2191.4 985.3 L2191.4 909.7 L2202.8 903.1 L2312.6 966.2 M2191.4 909.7 L2291.6 966.6"/>
<path d="M2029.1 1004.3 L2040.1 997.9 L2137.3 1054.4 L2291.6 966.6 M2029.1 1004.3 L2137.3 1065.4 L2312.6 966.2 M2029.1 1004.3 L2029.1 1079.4 L2137.3 1140.5 M2137.3 1065.4 L2137.3 1153.6"/>
<path d="M2312.6 966.2 L2312.6 1041.4"/>
<path d="M2147.3 1072.4 L2302.2 984.3 L2302.2 1037.4 L2147.3 1124.5Z"/>
<path d="M2158.8 1065.9 L2158.8 1103.3 M2147.7 1109.5 L2158.8 1103.3 L2170.4 1110.3 M2170.4 1059.3 L2170.4 1111.5 M2192.8 1046.5 L2192.8 1084.1 M2181.4 1090.5 L2192.8 1084.1 L2203.4 1091.7 M2181.4 1053 L2181.4 1105.3 M2203.4 1040.5 L2203.4 1092.9 M2225.5 1027.9 L2225.5 1065.7 M2214.5 1071.9 L2225.5 1065.7 L2236.1 1073.4 M2214.5 1034.2 L2214.5 1086.7 M2236.1 1021.9 L2236.1 1074.6 M2258.5 1009.1 L2258.5 1047.1 M2247.5 1053.3 L2258.5 1047.1 L2269.6 1054.5 M2247.5 1015.4 L2247.5 1068.1 M2269.6 1002.9 L2269.6 1055.7 M2291.6 990.3 L2291.6 1028.5 M2280.6 1034.7 L2291.6 1028.5 L2301.8 1036.4 M2280.6 996.6 L2280.6 1049.5"/>
<path d="M2017.1 1085.4 L2029.1 1079.4 M2017.1 1085.4 L2137.3 1153.6 L2334.7 1042.4 L2334.7 1055.4 L2137.3 1167 L2017.1 1099.5 L2017.1 1085.4 M2137.3 1140.5 L2312.6 1041.4 L2334.7 1042 M2137.3 1153.6 L2137.3 1167"/>
<path d="M2029.1 1106.5 L2029.1 1343.3 M2312.6 1068.4 L2312.6 1268.4 M2137.3 1167 L2137.3 1406.6"/>
<path d="M2029.1 1306.3 L2137.3 1367.4 L2181.4 1342.4 M2029.1 1319.4 L2137.3 1380.5 L2148.3 1374.5 M2029.1 1343.4 L2137.3 1406.5 L2148.3 1400.5"/>
<path d="M2181.4 1342.4 L2181.4 1167.7 L2257.5 1123.6 L2258.5 1325.4"/>
<path d="M2181.4 1243.2 L2192.4 1249.2 L2192.4 1262.3 L2182.4 1268.3 M2183.4 1253.8 L2192.4 1249.2 M2192.4 1262.3 L2214.5 1274.7 L2214.5 1287.3 L2182.4 1304.7 M2182.4 1292.3 L2214.5 1274.7 M2214.5 1287.3 L2236.5 1299.9 L2236.5 1312.3 L2182.4 1342.4 M2182.4 1329.4 L2236.5 1299.9 M2236.5 1312.3 L2258.5 1325.4 M2192.4 1362.4 L2258.5 1325.4"/>
<path d="M2257.5 1299.3 L2268.6 1305.3 L2268.6 1331.4 L2257.5 1325.4 M2268.6 1305.3 L2290.6 1292.3 M2268.6 1331.4 L2290.6 1318.4 M2257.5 1299.3 L2279.6 1286.7"/>
<path d="M2181.4 1343.4 L2192.4 1350 L2192.4 1374.9"/>
<path d="M2148.3 1374.5 L2170.4 1387.5 L2192.4 1374.9 L2192.4 1400.5 L2170.4 1413.5 L2148.3 1400.5Z" fill="#fff"/>
<path d="M2170.4 1387.5 L2170.4 1413.5"/>
<path d="M2148.3 1374.5 L2170.4 1362 L2192.4 1374.9 L2170.4 1387.5Z" fill="#606060"/>
<circle cx="2170.8" cy="1366.8" r="15" fill="#fff"/>
<path d="M2312.6 1268.3 L2336.7 1268.3 L2334.3 1292.7 M2312.6 1256.2 L2336.7 1268.3"/>
<path d="M2290.6 1292.3 L2312.6 1305.3 L2334.7 1292.7 L2334.7 1318.4 L2312.6 1331.4 L2290.6 1318.4Z" fill="#fff"/>
<path d="M2312.6 1305.3 L2312.6 1331.4"/>
<path d="M2290.6 1292.3 L2312.6 1279.9 L2334.7 1292.7 L2312.6 1305.3Z" fill="#606060"/>
<circle cx="2313" cy="1284.7" r="15" fill="#fff"/>
<path d="M2117 1067 L2129.5 1074 L2129.5 1079.2 L2117 1072.2Z M2119 1076.1 L2131.5 1083.1 L2131.5 1088.3 L2119 1081.3Z M2127 1082.6 L2139.5 1089.6 L2139.5 1094.8 L2127 1087.8Z M2121 1086.2 L2133.5 1093.2 L2133.5 1098.4 L2121 1091.4Z M2129 1095.7 L2141.5 1102.7 L2141.5 1107.9 L2129 1100.9Z M2119 1095.1 L2131.5 1102.1 L2131.5 1107.3 L2119 1100.3Z M2126 1104 L2138.5 1111 L2138.5 1116.2 L2126 1109.2Z" stroke-width="2.2"/>
<path d="M2030 1267 L2042.5 1274 L2042.5 1279.2 L2030 1272.2Z M2032 1276.1 L2044.5 1283.1 L2044.5 1288.3 L2032 1281.3Z M2040 1282.6 L2052.5 1289.6 L2052.5 1294.8 L2040 1287.8Z M2034 1286.2 L2046.5 1293.2 L2046.5 1298.4 L2034 1291.4Z M2042 1295.7 L2054.5 1302.7 L2054.5 1307.9 L2042 1300.9Z M2032 1295.1 L2044.5 1302.1 L2044.5 1307.3 L2032 1300.3Z M2039 1304 L2051.5 1311 L2051.5 1316.2 L2039 1309.2Z" stroke-width="2.2"/>
<path d="M2153 1204.7 L2165.5 1197.7 L2165.5 1202.9 L2153 1209.9Z M2151 1213.8 L2163.5 1206.8 L2163.5 1212 L2151 1219Z M2143 1220.3 L2155.5 1213.3 L2155.5 1218.5 L2143 1225.5Z M2149 1224 L2161.5 1217 L2161.5 1222.2 L2149 1229.2Z M2141 1233.4 L2153.5 1226.4 L2153.5 1231.6 L2141 1238.6Z M2151 1232.8 L2163.5 1225.8 L2163.5 1231 L2151 1238Z M2144 1241.8 L2156.5 1234.8 L2156.5 1240 L2144 1247Z" stroke-width="2.2"/>
<path d="M2290 1258.7 L2302.5 1251.7 L2302.5 1256.9 L2290 1263.9Z M2288 1267.8 L2300.5 1260.8 L2300.5 1266 L2288 1273Z M2280 1274.3 L2292.5 1267.3 L2292.5 1272.5 L2280 1279.5Z M2286 1278 L2298.5 1271 L2298.5 1276.2 L2286 1283.2Z M2278 1287.4 L2290.5 1280.4 L2290.5 1285.6 L2278 1292.6Z M2288 1286.8 L2300.5 1279.8 L2300.5 1285 L2288 1292Z M2281 1295.8 L2293.5 1288.8 L2293.5 1294 L2281 1301Z" stroke-width="2.2"/>
<!-- sec_fire -->
<path d="M1995.3 726.1 A35.3 35.3 0 0 1 2042.4 693.6 A29.4 29.4 0 0 1 2081.2 657.6 A41.2 41.2 0 0 1 2134.2 603.5 A31.8 31.8 0 0 1 2157.3 571.9 A50.6 50.6 0 0 1 2243.7 553.1 A33 33 0 0 1 2283.7 565.8 A49.4 49.4 0 0 1 2340.2 537.1 A42.8 42.8 0 1 1 2423.3 547.7 L2429.6 551.7 A21.2 21.2 0 0 1 2444.5 543 A35.3 35.3 0 1 1 2562.6 560.6 L2562.6 654.8 A54.1 54.1 0 0 1 2493.2 639.5 A49.9 49.9 0 0 1 2397.9 648.9 A44.3 44.3 0 0 1 2331.5 671.7 A31.8 31.8 0 0 1 2288.4 678.8 A33 33 0 0 1 2246.7 663 A35.8 35.8 0 0 1 2181.3 654.8 A45.2 45.2 0 0 1 2102.4 696 A28.2 28.2 0 0 1 2063.6 717.2 A37 37 0 0 1 2006.6 753.2 A17.7 17.7 0 1 1 1995.3 726.1Z" fill="#fff" stroke-linejoin="miter"/>
<path d="M1855.2 672.3 C1853.4 674.5 1848 680.9 1844.7 685.4 C1841.4 689.9 1836.9 694.2 1835.5 699.3 C1834 704.4 1835.2 710.2 1836.2 716.2 C1837.3 722.3 1841 732.3 1841.9 735.5 L1841.9 735.5 C1843.4 733.3 1849.2 726.4 1850.9 722.4 C1852.5 718.4 1852 715.5 1851.6 711.6 C1851.2 707.8 1848.6 703.4 1848.6 699.3 C1848.6 695.2 1850.5 691.5 1851.6 687 C1852.7 682.5 1854.6 674.8 1855.2 672.3Z" fill="#fff" stroke-linejoin="miter" stroke-width="2.4"/>
<path d="M1937.1 707.8 C1937.8 710.2 1940.7 717.1 1941 722.4 C1941.2 727.7 1938.5 734.7 1938.7 739.4 C1938.8 744 1940.2 746.5 1941.8 750.1 C1943.3 753.7 1946.9 759.1 1947.9 760.9 L1947.9 760.9 C1948.9 758.1 1952.9 748.6 1954.1 744 C1955.2 739.4 1955.9 737.3 1954.8 733.2 C1953.8 729.1 1950.9 723.6 1947.9 719.3 C1945 715.1 1938.9 709.7 1937.1 707.8Z" fill="#fff" stroke-linejoin="miter" stroke-width="2.4"/>
<path d="M1911.7 714.7 C1911.3 717.8 1910.9 728.1 1909.4 733.2 C1907.9 738.3 1903.8 741.9 1902.5 745.5 C1901.2 749.1 1901.4 751.8 1901.7 754.8 C1902 757.7 1903.6 761.8 1904 763.2 L1904 763.2 C1905.7 761.3 1911.5 755.9 1914 751.7 C1916.6 747.4 1919 742.2 1919.4 737.8 C1919.8 733.4 1917.6 729.3 1916.3 725.5 C1915.1 721.6 1912.5 716.5 1911.7 714.7Z" fill="#fff" stroke-linejoin="miter" stroke-width="2.4"/>
<path d="M1842.4 766.8 C1840.2 768.9 1833.1 774.2 1829.3 779.4 C1825.4 784.6 1821.5 791.2 1819.3 797.9 C1817 804.6 1815.4 812 1815.7 819.5 C1816.1 826.9 1817.3 834.6 1821.6 842.6 C1825.9 850.5 1832.1 859.3 1841.6 867.2 C1851.1 875.2 1872.4 886.5 1878.6 890.3 L1878.6 890.3 C1875.5 885.7 1865.5 871.8 1860.1 862.6 C1854.7 853.3 1850.6 841.4 1846.2 834.9 C1841.9 828.3 1836.5 828.2 1834.2 823.3 C1832 818.4 1832.2 811.9 1832.7 805.6 C1833.2 799.3 1835.7 792 1837.3 785.6 C1838.9 779.1 1841.5 769.9 1842.4 766.8Z" fill="#fff" stroke-linejoin="miter" stroke-width="2.4"/>
<path d="M1865 715.5 C1865.7 720 1869.1 733.3 1869 742.4 C1868.9 751.5 1866.9 761.9 1864.4 770.2 C1861.9 778.4 1858.3 783.8 1853.9 791.7 C1849.6 799.7 1841.8 812.7 1838.5 817.9 C1835.3 823.2 1834.9 822.4 1834.2 823.3 L1834.2 823.3 C1837.3 826.5 1845 831.4 1852.4 842.6 C1859.8 853.7 1872.7 889 1878.6 890.3 C1884.5 891.6 1886.6 864.6 1887.8 850.3 C1889.1 835.9 1887.6 817.4 1886.3 804.1 C1885 790.7 1881.7 779.9 1880.1 770.2 C1878.6 760.4 1878.3 752.4 1877.1 745.5 C1875.8 738.6 1874.4 733.6 1872.4 728.6 C1870.4 723.6 1866.3 717.7 1865 715.5Z" fill="#fff" stroke-linejoin="miter" stroke-width="2.4"/>
<path d="M1924 760.9 C1921.9 763.2 1915.1 769.9 1910.9 774.8 C1906.8 779.7 1901.7 785.7 1899.4 790.2 C1897.1 794.7 1896.4 797.6 1897.1 801.7 C1897.7 805.8 1900.4 809.3 1903.2 814.8 C1906.1 820.4 1910.7 828.4 1914 834.9 C1917.4 841.3 1922.8 847.4 1923.3 853.3 C1923.8 859.3 1924.6 864.1 1917.1 870.3 C1909.7 876.5 1885 887 1878.6 890.3 L1878.6 890.3 C1883.7 888.8 1900.7 886.2 1909.4 881.1 C1918.1 875.9 1926.9 867.2 1931 859.5 C1935.1 851.8 1934.8 842.8 1934.1 834.9 C1933.3 826.9 1928.9 818.2 1926.3 811.8 C1923.8 805.3 1919.8 802 1918.6 796.3 C1917.5 790.7 1918.5 783.8 1919.4 777.9 C1920.3 772 1923.3 763.7 1924 760.9Z" fill="#fff" stroke-linejoin="miter" stroke-width="2.4"/>
<path d="M1931.7 870.3 C1932.3 868 1934.8 861.1 1934.8 856.4 C1934.8 851.8 1933 847.4 1931.7 842.6 C1930.5 837.7 1928.1 832 1927.1 827.2 C1926.1 822.3 1925.8 815.6 1925.6 813.3 L1925.6 813.3 C1927.2 814.8 1932.5 818.7 1935.6 822.5 C1938.7 826.4 1942.3 832 1944.1 836.4 C1945.9 840.8 1946.8 844.6 1946.4 848.7 C1946 852.8 1944.2 857.5 1941.8 861.1 C1939.3 864.6 1933.4 868.8 1931.7 870.3Z" fill="#fff" stroke-linejoin="miter" stroke-width="2.4"/>
<path d="M1891.2 740.9 C1889.6 743.7 1884 750.9 1881.7 757.8 C1879.3 764.8 1877.3 774.8 1877.1 782.5 C1876.8 790.2 1877.8 796.6 1880.1 804.1 C1882.4 811.5 1887.8 820.7 1890.9 827.2 C1894 833.6 1897.6 836.7 1898.6 842.6 C1899.6 848.5 1900.4 854.6 1897.1 862.6 C1893.7 870.6 1881.7 885.7 1878.6 890.3 L1878.6 890.3 C1882.7 887.2 1896.8 878.5 1903.2 871.8 C1909.7 865.2 1915.1 857.7 1917.1 850.3 C1919.2 842.8 1917.4 834.3 1915.6 827.2 C1913.8 820 1909.9 814.1 1906.3 807.1 C1902.7 800.2 1897 792.8 1894 785.6 C1891 778.4 1889.1 771.4 1888.6 764 C1888.1 756.6 1890.8 744.7 1891.2 740.9Z" fill="#fff" stroke-linejoin="miter" stroke-width="2.4"/>
<path d="M1861.6 804.1 C1862.4 806.4 1865.9 813.3 1866.3 817.9 C1866.7 822.5 1862.9 827.2 1864 831.8 C1865 836.4 1870.2 843.1 1872.4 845.6 C1874.6 848.2 1876.3 846.9 1877.1 847.2 L1877.1 847.2 C1877.3 844.6 1879.4 836.9 1878.6 831.8 C1877.8 826.6 1875.3 821 1872.4 816.4 C1869.6 811.8 1863.4 806.1 1861.6 804.1Z" fill="#fff" stroke-linejoin="miter" stroke-width="2.4"/>
<path d="M1906.3 788.6 C1907.1 791.2 1910.7 799.2 1910.9 804.1 C1911.2 808.9 1907.3 812.8 1907.9 817.9 C1908.4 823.1 1913 832 1914 834.9 L1914 834.9 C1914.5 832.3 1917.1 824.6 1917.1 819.5 C1917.1 814.3 1915.8 809.2 1914 804.1 C1912.2 798.9 1907.6 791.2 1906.3 788.6Z" fill="#fff" stroke-linejoin="miter" stroke-width="2.4"/>
<path d="M1847.8 794.8 C1849.8 796.3 1857 799.4 1860.1 804.1 C1863.2 808.7 1865.8 814.8 1866.3 822.5 C1866.8 830.2 1862.7 842.6 1863.2 850.3 C1863.7 858 1866.8 862.1 1869.4 868.8 C1871.9 875.4 1877.1 886.7 1878.6 890.3 L1878.6 890.3 C1880.6 887 1888.4 877 1890.9 870.3 C1893.5 863.6 1894.5 856.7 1894 850.3 C1893.5 843.8 1890.4 837.9 1887.8 831.8 C1885.3 825.6 1882.2 818.7 1878.6 813.3 C1875 807.9 1871.4 802.5 1866.3 799.4 C1861.1 796.3 1850.9 795.6 1847.8 794.8Z" fill="#fff" stroke-linejoin="miter" stroke-width="2.4"/>
<path d="M1887.8 748.6 C1887.6 751.2 1885.3 758.4 1886.3 764 C1887.3 769.6 1891.9 780.2 1894 782.5 C1896.1 784.8 1897.9 778.6 1898.6 777.9 L1898.6 777.9 C1898.9 776.1 1900.9 770.4 1900.2 767.1 C1899.4 763.7 1896.1 760.9 1894 757.8 C1891.9 754.8 1888.9 750.1 1887.8 748.6Z" fill="#fff" stroke-linejoin="miter" stroke-width="2.4"/>
<!-- sec_planters -->
<path d="M1745.7 1393.6 C1748.9 1396.9 1757.4 1407.1 1764.9 1413.2 C1772.3 1419.3 1780.9 1425.8 1790.5 1430.3 C1800.1 1434.9 1817.2 1438.8 1822.5 1440.5" stroke-width="3.6"/>
<path d="M1865.6 1462.7 C1868.7 1466.2 1877 1477.7 1884.4 1483.7 C1891.8 1489.6 1900.4 1494.3 1910 1498.6 C1919.6 1502.9 1936.7 1507.5 1942 1509.3" stroke-width="3.6"/>
<circle cx="1598.4" cy="1365.2" r="9.6" fill="#fff"/>
<path d="M1581.8 1375.2 L1647.9 1339 L1669.3 1349.2 L1669.3 1374.8 L1603.8 1413.7 L1581.8 1400Z" fill="#fff"/>
<path d="M1581.8 1375.2 L1647.9 1339 L1669.3 1349.2 L1603.8 1384.4Z" fill="#606060"/>
<path d="M1589.9 1375.2 L1647.9 1343.2 L1661.4 1349.6 L1603.8 1380.8Z" fill="#fff" stroke="none"/>
<path d="M1603.8 1384.4 L1603.8 1413.7"/>
<circle cx="1645.4" cy="1346" r="14.5" fill="#fff"/>
<circle cx="1621.9" cy="1351.3" r="20.3" fill="#fff"/>
<path d="M1669.3 1349.2 L1691.3 1337.5 L1757.4 1375.2 L1757.4 1398.3 L1735 1413.2 L1669.3 1374.8Z" fill="#fff"/>
<path d="M1669.3 1349.2 L1691.3 1337.5 L1757.4 1375.2 L1735 1385.9Z" fill="#606060"/>
<path d="M1677 1349.2 L1691.3 1341.7 L1749.5 1375.2 L1735 1382.3Z" fill="#fff" stroke="none"/>
<path d="M1735 1385.9 L1735 1413.2"/>
<circle cx="1692.3" cy="1346" r="13.9" fill="#fff"/>
<circle cx="1717.9" cy="1351.3" r="20.3" fill="#fff"/>
<circle cx="1735" cy="1367.3" r="13.9" fill="#fff"/>
<path d="M1745.7 1393.6 C1746.9 1394.9 1749.9 1398.2 1753.1 1401.5 C1756.3 1404.8 1762.9 1411.3 1764.9 1413.2" stroke-width="3.6"/>
<path d="M1822.5 1437.8 L1844.9 1426.5 L1876.9 1444.2 L1876.9 1468.7 L1854.5 1481.5 L1822.5 1461.3Z" fill="#fff"/>
<path d="M1822.5 1437.8 L1844.9 1426.5 L1876.9 1444.2 L1854.5 1454.2Z" fill="#606060"/>
<path d="M1854.5 1454.2 L1854.5 1481.5"/>
<circle cx="1839.6" cy="1434.1" r="9.6" fill="#fff"/>
<circle cx="1857.1" cy="1436.1" r="14.5" fill="#fff"/>
<path d="M1865.6 1462.7 C1867 1464.4 1870.6 1469.1 1873.7 1472.6 C1876.9 1476 1882.6 1481.8 1884.4 1483.7" stroke-width="3.6"/>
<path d="M1942 1507.1 L1964.4 1496 L2029.5 1531.7 L2029.5 1557.3 L2007.1 1570.1 L1942 1529.5Z" fill="#fff"/>
<path d="M1942 1507.1 L1964.4 1496 L2029.5 1531.7 L2007.1 1542.3Z" fill="#606060"/>
<path d="M1949.7 1507.1 L1964.4 1500.1 L2021.4 1531.7 L2007.1 1538.5Z" fill="#fff" stroke="none"/>
<path d="M2007.1 1542.3 L2007.1 1570.1"/>
<circle cx="1964.4" cy="1502.9" r="13.9" fill="#fff"/>
<circle cx="1990" cy="1509.3" r="20.7" fill="#fff"/>
<circle cx="2007.1" cy="1523.1" r="13.9" fill="#fff"/>
<!-- sec_play -->
<path d="M1094.1 1441.3 L1365.5 1284.5 L1689.6 1469.7 L1418.2 1626.5Z" fill="#fff"/>
<path d="M1121.2 1441.3 L1365.4 1302.1 L1662.5 1469.7 L1418.2 1611Z"/>
<path d="M1365.4 1302.1 L1365.9 1339.8"/>
<path d="M1158.9 1461.3 L1365.9 1339.8 L1641 1498"/>
<path d="M1094.1 1441.3 L1094.1 1464.8 L1418.2 1650 L1689.6 1493 L1689.6 1469.7"/>
<path d="M1418.2 1626.5 L1418.2 1650"/>
<path d="M1339.1 1207.3 L1404.4 1394.2" stroke="#606060" stroke-width="14.1" stroke-linecap="round"/><path d="M1339.1 1207.3 L1404.4 1394.2" stroke="#fff" stroke-width="8.9" stroke-linecap="round"/>
<path d="M1508.1 1310.9 L1571.1 1492.1" stroke="#606060" stroke-width="14.1" stroke-linecap="round"/><path d="M1508.1 1310.9 L1571.1 1492.1" stroke="#fff" stroke-width="8.9" stroke-linecap="round"/>
<path d="M1399 1243.6 L1400.2 1441.3 M1403.7 1245.9 L1404.4 1439 M1431.9 1275.3 L1433.1 1461.3 M1435.9 1277.7 L1436.6 1459" stroke-width="2"/>
<path d="M1394.3 1444.8 L1406 1437.8 L1442.5 1457.8 L1442.5 1466 L1429.6 1474.3 L1394.3 1453.1Z" fill="#fff"/>
<path d="M1394.3 1444.8 L1429.6 1464.8 L1442.5 1457.8 M1429.6 1464.8 L1429.6 1474.3"/>
<path d="M1400.2 1430.7 L1400.2 1441.3 M1404.4 1430.7 L1404.4 1440.1 M1433.1 1449.5 L1433.1 1461.3 M1436.6 1449.5 L1436.6 1459.4" stroke-width="2"/>
<path d="M1333.1 1193.3 L1502.1 1296.9" stroke="#606060" stroke-width="13.6" stroke-linecap="round"/><path d="M1333.1 1193.3 L1502.1 1296.9" stroke="#fff" stroke-width="8.4" stroke-linecap="round"/>
<path d="M1331.1 1203.3 L1264.1 1473.1" stroke="#606060" stroke-width="14.1" stroke-linecap="round"/><path d="M1331.1 1203.3 L1264.1 1473.1" stroke="#fff" stroke-width="8.9" stroke-linecap="round"/>
<path d="M1498.1 1306.9 L1432.3 1573.3" stroke="#606060" stroke-width="14.1" stroke-linecap="round"/><path d="M1498.1 1306.9 L1432.3 1573.3" stroke="#fff" stroke-width="8.9" stroke-linecap="round"/>
<path d="M1403.1 1667.5 L1490.6 1616.9 L1519.4 1635 L1519.4 1668.7 L1432.3 1718.8 L1403.1 1701.6Z" fill="#fff"/>
<path d="M1403.1 1667.5 L1490.6 1616.9 L1519.4 1635 L1432.3 1685.1Z" fill="#606060"/>
<path d="M1410.6 1667.5 L1490.6 1621.1 L1511.8 1635 L1432.3 1680.4Z" fill="#fff" stroke="none"/>
<path d="M1432.3 1685.1 L1432.3 1718.8"/>
<circle cx="1488.3" cy="1628.6" r="16.9" fill="#fff"/>
<circle cx="1455.3" cy="1635.7" r="27.1" fill="#fff"/>
<circle cx="1432.3" cy="1656.9" r="18.4" fill="#fff"/>
<ellipse cx="1746.8" cy="1722.8" rx="24.7" ry="11.8" stroke-width="4" fill="#fff"/>
<path d="M1735.5 1673.4 C1735.5 1677.5 1735.1 1709.9 1735.5 1714.6 C1735.8 1719.3 1737.8 1719.7 1739 1720.5 C1740.2 1721.2 1745.5 1721.6 1747.2 1721.6 C1749 1721.6 1755 1721.2 1756.2 1720.5 C1757.4 1719.7 1758.7 1719.3 1759 1714.6 C1759.3 1709.9 1759 1677.5 1759 1673.4" fill="#fff"/>
<ellipse cx="1749.6" cy="1647.9" rx="72.5" ry="27.8" fill="#fff"/>
<ellipse cx="1749.6" cy="1645.1" rx="72.5" ry="27.8" stroke-width="3.2" fill="#fff"/>
<ellipse cx="1746.8" cy="1645.1" rx="8.2" ry="2.8" fill="#606060"/>
<path d="M1742.5 1606.3 L1742.5 1643.5 L1750.8 1643.5 L1750.8 1606.3" fill="#fff"/>
<path d="M1635.4 1503.9 L1700.2 1466.2 L1795.5 1466.2 L1863.8 1506.2 L1863.8 1566.3 L1796.7 1605.1 L1701.3 1607.5 L1635.4 1568.6Z" fill="#fff"/>
<path d="M1635.4 1562.7 L1701.3 1601.6 L1796.7 1600.4 L1863.8 1561.6 M1696.6 1464.6 L1796.7 1464.6 M1701.3 1601.6 L1701.3 1607.5 M1796.7 1600.4 L1796.7 1605.1"/>
<path d="M1746.1 1493.3 L1635.4 1503.9 M1746.1 1493.3 L1700.2 1466.9 M1746.1 1493.3 L1794.8 1466.9 M1746.1 1493.3 L1863.8 1506.2 M1746.1 1493.3 L1635.4 1562.7 M1746.1 1493.3 L1701.3 1601.6 M1746.1 1493.3 L1796.7 1600.4 M1746.1 1493.3 L1862.6 1560.4"/>
<path d="M1610.2 1689.8 L1610.2 1715.7 L1616.1 1719.3 L1618.9 1716.9 L1618.9 1695.3 M1633.1 1704 L1633.1 1729.9 L1638.9 1733.4 L1646 1729.9 L1646 1703.3 M1659 1695.7 L1659 1716.9 L1662.5 1719.3 L1667.7 1716.5 L1667.7 1690.3 M1616.1 1693.4 L1616.1 1719.3 M1638.9 1707.5 L1638.9 1733.4 M1662.5 1693.9 L1662.5 1719.3"/>
<path d="M1609.5 1681.6 L1638.9 1665.1 L1668.4 1681.6 L1668.4 1689.8 L1638.9 1707.5 L1609.5 1689.8Z" fill="#fff"/>
<path d="M1609.5 1681.6 L1638.9 1699.3 L1668.4 1681.6 M1638.9 1699.3 L1638.9 1707.5"/>
<path d="M1826.8 1681.6 L1826.8 1707.5 L1832.7 1711 L1835.5 1708.7 L1835.5 1687 M1849.6 1695.7 L1849.6 1721.6 L1855.5 1725.2 L1862.6 1721.6 L1862.6 1695 M1875.5 1687.5 L1875.5 1708.7 L1879.1 1711 L1884.2 1708.2 L1884.2 1682.1 M1832.7 1685.1 L1832.7 1711 M1855.5 1699.3 L1855.5 1725.2 M1879.1 1685.6 L1879.1 1711"/>
<path d="M1826.1 1673.4 L1855.5 1656.9 L1884.9 1673.4 L1884.9 1681.6 L1855.5 1699.3 L1826.1 1681.6Z" fill="#fff"/>
<path d="M1826.1 1673.4 L1855.5 1691 L1884.9 1673.4 M1855.5 1691 L1855.5 1699.3"/>
<!-- sec_misc -->
<path d="M222.5 478.5 L193.2 488.1 L217.4 507.2 L186.6 506.2 L202.8 532.5 L174.2 521 L180.5 551.2 L157.5 530.7 L153.1 561.2 L138.5 534 L123.9 561.2 L119.5 530.7 L96.5 551.2 L102.8 521 L74.2 532.5 L90.4 506.2 L59.6 507.2 L83.8 488.1 L54.5 478.5 L83.8 468.9 L59.6 449.8 L90.4 450.8 L74.2 424.5 L102.8 436 L96.5 405.8 L119.5 426.3 L123.9 395.8 L138.5 423 L153.1 395.8 L157.5 426.3 L180.5 405.8 L174.2 436 L202.8 424.5 L186.6 450.8 L217.4 449.8 L193.2 468.9Z" stroke-linejoin="miter" stroke-width="3"/>
<path d="M360.3 596 A57 60 0 0 1 303.3 536 A57 66.5 0 0 1 363.4 469.5 A57.5 57.5 0 0 1 420.3 408.2 L548.7 408.2 A58.5 58.5 0 0 1 607.2 466.7 L607.2 468.6 L647 468.6 A63.7 63.7 0 0 1 647 596 Z" stroke="#000" stroke-width="2.7" stroke-linejoin="miter"/>
<!-- sec_croc -->
<ellipse cx="2334.75" cy="75.25" rx="155.75" ry="57.25" fill="#fff" stroke="#6a6a6a" stroke-width="2.4"/>
<path d="M2272 128 L2274.75 130.5 C2290 146 2308 166 2327.5 181 C2322.5 162 2320.5 146 2326 136.5 L2333 131 Z" fill="#fff" stroke="none"/>
<path d="M2274.75 130.5 C2290 146 2308 166 2327.5 181 C2322.5 162 2320.5 146 2326 136.5 L2331 133.6" fill="none" stroke="#6a6a6a" stroke-width="2.4"/>
<g font-family="'Liberation Sans', sans-serif" font-style="italic" font-size="24.4" fill="#555" stroke="none" text-anchor="middle"><text x="2327" y="52.5" textLength="143" lengthAdjust="spacingAndGlyphs">POKOLORUJ</text><text x="2327" y="81.2" textLength="140" lengthAdjust="spacingAndGlyphs">I ROZWIĄŻ</text><text x="2328" y="110" textLength="154" lengthAdjust="spacingAndGlyphs">KRZYŻÓWKĘ!</text></g>
<g stroke="#111" stroke-width="2.6" fill="none"><path d="M2409.4 325.6 C2411 327.9 2414.5 335.4 2418.7 339.5 C2422.8 343.6 2427.6 347.2 2434.1 350.3 C2440.5 353.4 2449.3 356 2457.2 358 C2465 360 2478.5 360.5 2481 362.3 C2483.6 364.1 2477.8 367.4 2472.6 368.8 C2467.3 370.2 2457.2 371.1 2449.5 370.6 C2441.8 370.1 2432 368 2426.4 365.7 C2420.7 363.3 2418.5 359.3 2415.6 356.4 C2412.6 353.6 2409.8 350 2408.6 348.7" fill="#fff"/><path d="M2430.2 344.4 C2431 343.7 2433.4 339.8 2434.8 340.3 C2436.2 340.7 2438 346 2438.7 347.2 M2448.7 354.1 C2449.5 353.6 2451.9 350.5 2453.3 351 C2454.7 351.6 2456.5 356.2 2457.2 357.2" stroke-width="2"/><path d="M2357.8 342.6 C2358.4 345.1 2363.8 361.3 2363.2 364.1 C2362.6 367 2354.4 366.1 2352.4 367.2 C2350.4 368.3 2346.6 371.9 2346.2 373.4 C2345.9 374.8 2347.3 378.6 2349.3 379.5 C2351.3 380.5 2359.8 382 2363.2 381.9 C2366.6 381.7 2375.9 379 2378.6 378 C2381.3 377 2385.9 376.1 2386.3 373.4 C2386.7 370.7 2382.6 357.8 2381.7 354.9 C2380.8 352 2379 349.5 2378.6 348.7" fill="#fff"/><path d="M2380.1 348.7 C2381.8 349.5 2391.8 352 2394 354.9 C2396.2 357.8 2397.7 370 2398.6 373.4 C2399.5 376.8 2399.7 382.2 2401.7 384.2 C2403.7 386.1 2412 389.7 2415.6 390.3 C2419.2 391 2429.6 390.3 2432.5 389.6 C2435.4 388.8 2439.7 385.5 2440.2 384.2 C2440.8 382.8 2438.9 378.9 2437.1 378 C2435.3 377.1 2427 377.9 2424.8 376.5 C2422.7 375 2420.3 368.7 2418.7 365.7 C2417 362.6 2411.8 352.1 2411 350.3" fill="#fff"/><path d="M2348.6 374.2 L2357 380.3 M2352.4 371.8 L2360.1 379.5 M2357 381.1 L2360.9 374.9 M2426.4 382.6 L2432.5 388.8 M2430.2 380.3 L2436.4 386.5 M2427.9 389.6 L2431.7 383.4" stroke-width="1.6"/><path d="M2364 271.7 C2360.1 273.4 2360.1 283.3 2358.6 288.7 C2357 294 2353 306 2352.4 311.8 C2351.8 317.5 2352.9 327.4 2353.9 331.8 C2355 336.2 2356.8 342.4 2360.1 344.9 C2363.4 347.4 2373.7 349 2378.6 350.3 C2383.5 351.5 2392.8 354.1 2397.1 354.1 C2401.4 354.1 2408.9 353.9 2411 350.3 C2413 346.7 2412.9 333.1 2412.5 327.2 C2412.1 321.2 2409.9 310.7 2407.9 305.6 C2405.8 300.5 2399.8 292.6 2397.1 288.7 C2394.4 284.8 2392.3 278.6 2387.8 276.3 C2383.4 274.1 2367.9 270.1 2364 271.7Z" fill="#fff"/><path d="M2386.3 277.9 C2386.6 281 2387 289.4 2387.8 296.4 C2388.7 303.3 2391.5 312.5 2391.2 319.5 C2391 326.4 2388.4 333.1 2386.3 338 C2384.2 342.8 2379.9 346.9 2378.6 348.7" stroke-width="2"/><path d="M2394 277.9 C2395 278.1 2395.6 286.6 2397.9 288.7 C2400.1 290.7 2407.6 292.8 2411 293.3 C2414.3 293.8 2421 291.1 2423.3 292.5 C2425.5 293.9 2427.7 301.5 2427.9 304.1 C2428.1 306.6 2424.3 309.9 2424.8 311.8 C2425.3 313.6 2431.7 315.9 2431.7 317.9 C2431.7 320 2426.8 325.7 2424.8 327.2 C2422.9 328.6 2418.8 329.7 2417.1 328.7 C2415.5 327.7 2413.6 322.5 2412.5 319.5 C2411.4 316.4 2410.5 308.5 2408.6 305.6 C2406.8 302.7 2401.1 300.4 2398.6 297.9 C2396.2 295.4 2390.8 289.8 2390.2 287.1 C2389.5 284.4 2393 277.7 2394 277.9Z" fill="#fff"/><path d="M2400.2 291.7 C2400.7 293.5 2402 300.2 2403.2 302.5 C2404.5 304.8 2407.1 305.1 2407.9 305.6 M2407.9 294 L2411 302.5" stroke-width="1.8"/><path d="M2364 275.1 C2361 275.4 2342.9 278.8 2338.5 277.9 C2334.1 276.9 2328.2 269.4 2326.2 267.1 C2324.2 264.7 2321.8 259.6 2321.6 257.8 C2321.4 256 2324.5 253 2324.7 251.7 C2324.9 250.3 2323.8 246.6 2323.1 246.3 C2322.5 245.9 2320.1 248.4 2319.3 248.6 C2318.5 248.8 2316.7 248.6 2316.2 247.8 C2315.7 247 2315.3 242.3 2314.7 241.7 C2314 241 2311.5 241.6 2310.8 242.4 C2310.1 243.2 2309 248.4 2308.5 248.6 C2308 248.8 2306.8 244.2 2306.2 244 C2305.6 243.7 2303.5 245.4 2303.1 246.3 C2302.7 247.2 2303.4 251.4 2303.1 251.7 C2302.8 251.9 2301.5 248.8 2300.8 248.6 C2300.1 248.4 2297.4 249.4 2296.9 250.1 C2296.5 250.9 2296 253.1 2296.9 254.8 C2297.8 256.4 2302 261.3 2304.6 264 C2307.3 266.7 2316.5 275.2 2320.1 277.9 C2323.7 280.6 2331.1 285.8 2335.5 287.1 C2339.9 288.5 2355.2 289.2 2357.8 289.4" fill="#fff"/><path d="M2369.4 196.2 C2362.6 197.2 2365.5 205.3 2365 208.5 C2364.6 211.8 2367.8 218.2 2366.3 220.9 C2364.8 223.5 2356.7 226.1 2353.9 228.6 C2351.2 231 2346.7 236.3 2345.5 239.4 C2344.2 242.4 2343.8 248.4 2344.7 251.7 C2345.6 255 2349.8 261.3 2352.4 264 C2355 266.7 2360.3 270.3 2364 271.7 C2367.7 273.1 2375.7 273.7 2380.1 274.5 C2384.6 275.3 2391.9 277.5 2397.1 277.9 C2402.2 278.2 2413.3 277.8 2418.7 277.1 C2424 276.4 2433.2 273.9 2437.1 272.5 C2441.1 271.1 2445.6 267.5 2448.2 266.6 C2450.9 265.8 2454.7 266.3 2457.2 266 C2459.6 265.8 2464.5 265.9 2466.4 264.8 C2468.3 263.7 2470.5 260.4 2471.3 257.8 C2472.2 255.3 2473 248.1 2472.6 245.5 C2472.1 242.9 2469.6 239.4 2468 238.6 C2466.3 237.8 2461.7 240 2460.2 239.4 C2458.8 238.7 2458.6 235 2457.2 234 C2455.7 232.9 2451.5 231.3 2449.5 231.7 C2447.4 232 2443.4 234.6 2441.8 236.3 C2440.1 237.9 2440.2 244.4 2437.1 244 C2434.1 243.6 2421.7 235.9 2418.7 233.2 C2415.6 230.5 2414 226.8 2414 223.9 C2414 221.1 2418.4 214.7 2418.7 211.6 C2418.9 208.5 2422.1 202.9 2415.6 200.8 C2409 198.8 2376.1 195.2 2369.4 196.2Z" stroke-width="3" fill="#fff"/><path d="M2359.3 242.9 C2360.1 242.6 2362.4 241.7 2364 240.9 C2365.5 240.1 2367.8 238.6 2368.6 238.1 M2364 240.9 C2366.7 242.4 2373.6 247.3 2380.1 250.1 C2386.7 253 2394.3 255.4 2403.2 257.8 C2412.2 260.3 2425.1 263.4 2434.1 264.8 C2443 266.1 2451.6 266 2457.2 265.9 C2462.7 265.7 2465.5 264.3 2467.2 264" stroke-width="2.6"/><path d="M2368.6 246.7 L2370.9 252.4 L2374 248.9 M2428.7 264.3 L2431 268.3 L2434.1 264.8 M2453.3 266.2 L2455.6 271.1 L2458.7 266.2" stroke-width="1.6" fill="#fff"/><circle cx="2450.7" cy="241.7" r="3.4" stroke-width="2"/><circle cx="2464.1" cy="248.3" r="3.4" stroke-width="2"/><ellipse cx="2381.7" cy="217" rx="8.6" ry="12.6" stroke-width="2" fill="#fff"/><ellipse cx="2382" cy="217.3" rx="6.8" ry="10.5" stroke-width="1.5"/><ellipse cx="2382.6" cy="217.8" rx="5.1" ry="8.3" fill="#111" stroke="none"/><circle cx="2380.1" cy="212.9" r="1.7" fill="#fff" stroke="none"/><ellipse cx="2402.5" cy="218.1" rx="7.7" ry="11.7" stroke-width="2" fill="#fff"/><ellipse cx="2402.6" cy="218.4" rx="6" ry="9.6" stroke-width="1.5"/><ellipse cx="2402.9" cy="218.7" rx="4.6" ry="7.7" fill="#111" stroke="none"/><circle cx="2400.9" cy="214.1" r="1.5" fill="#fff" stroke="none"/><path d="M2357.8 175.4 C2357.6 173.4 2358.2 171.3 2360.1 170 C2362.1 168.8 2368.3 167.1 2372.4 166.2 C2376.5 165.3 2386.2 164.2 2390.9 163.1 C2395.6 162 2403.6 158.1 2407.9 158 C2412.2 157.9 2419.8 160.5 2423.3 162.3 C2426.8 164.1 2432.1 169.2 2434.1 171.6 C2436 173.9 2437.8 177.7 2437.9 180 C2438 182.4 2436.5 187 2434.8 189.3 C2433.2 191.5 2426.9 195.1 2425.6 197 C2424.3 198.8 2426.2 203.5 2424.8 203.2 C2423.5 202.8 2418.9 196.3 2415.6 194.7 C2412.3 193 2404.7 191.1 2400.2 190.8 C2395.6 190.5 2385.8 191.8 2381.7 192.4 C2377.6 192.9 2372 195.9 2369.4 195 C2366.7 194.1 2363.2 188 2361.7 185.4 C2360.1 182.8 2358 177.5 2357.8 175.4Z" stroke-width="2.6" fill="#fff"/><path d="M2361.7 185.4 C2362.9 186.8 2366.3 192.9 2369.4 193.4 C2372.4 194 2375.5 190 2380.1 188.5 C2384.8 187.1 2391.4 184.9 2397.1 184.7 C2402.7 184.4 2409.3 184.9 2414 187 C2418.8 189 2423.7 195.3 2425.6 197" stroke-width="2"/><path d="M2370.9 195.6 C2372.1 194.7 2383.1 192.7 2387.8 192.4 C2392.6 192.1 2401.6 192.1 2406.3 193.4 C2411.1 194.8 2419.7 200.1 2423.3 202.4 C2426.8 204.7 2432.2 209.3 2432.8 210.9 C2433.4 212.4 2430.8 214.2 2427.9 214.1 C2425 214 2415.5 211.6 2411 210.1 C2406.4 208.5 2398.3 203.8 2394 202.4 C2389.7 200.9 2381.7 200.2 2378.6 199.3 C2375.5 198.4 2369.7 196.5 2370.9 195.6Z" stroke-width="2" fill="#2a2a2a"/><path d="M2378.6 196.2 C2381.2 196.2 2388.4 195.1 2394 196.2 C2399.7 197.4 2407.1 200.7 2412.5 203.2 C2417.9 205.6 2424 209.6 2426.4 210.9" stroke-width="1.6" stroke="#aaa"/><rect x="2404.2" y="164.5" width="13.5" height="16.5" rx="3.5" stroke-width="1.3" fill="#fff"/><circle cx="2411" cy="171.6" r="3.4" stroke-width="1.2"/><circle cx="2411" cy="176.5" r="2.2" stroke-width="1.2"/><path d="M2399.4 187 L2403.2 187 L2400.2 189.3 L2401.4 185.4 L2402.6 189.3Z M2408.2 188.5 L2412.2 188.5 L2409.1 190.8 L2410.2 187 L2411.6 190.8Z" stroke-width="1"/></g>
<!-- crossword -->
<g fill="none" stroke="#707070" stroke-width="2.6"><rect x="337.2" y="40.6" width="72.6" height="72.8" rx="14" ry="14"/><rect x="262.4" y="40.6" width="72.6" height="72.8" rx="14" ry="14"/><rect x="487.4" y="40.6" width="72.6" height="72.8" rx="14" ry="14"/><rect x="562.4" y="40.6" width="72.6" height="72.8" rx="14" ry="14"/><rect x="637.4" y="40.6" width="72.6" height="72.8" rx="14" ry="14"/><rect x="712.4" y="40.6" width="72.6" height="72.8" rx="14" ry="14"/><rect x="337.2" y="114.5" width="72.6" height="72.8" rx="14" ry="14"/><rect x="262.4" y="114.5" width="72.6" height="72.8" rx="14" ry="14"/><rect x="187.6" y="114.5" width="72.6" height="72.8" rx="14" ry="14"/><rect x="487.4" y="114.5" width="72.6" height="72.8" rx="14" ry="14"/><rect x="562.4" y="114.5" width="72.6" height="72.8" rx="14" ry="14"/><rect x="337.2" y="187.8" width="72.6" height="72.8" rx="14" ry="14"/><rect x="262.4" y="187.8" width="72.6" height="72.8" rx="14" ry="14"/><rect x="187.6" y="187.8" width="72.6" height="72.8" rx="14" ry="14"/><rect x="112.8" y="187.8" width="72.6" height="72.8" rx="14" ry="14"/><rect x="487.4" y="187.8" width="72.6" height="72.8" rx="14" ry="14"/><rect x="562.4" y="187.8" width="72.6" height="72.8" rx="14" ry="14"/><rect x="637.4" y="187.8" width="72.6" height="72.8" rx="14" ry="14"/><rect x="487.4" y="261.6" width="72.6" height="72.8" rx="14" ry="14"/><rect x="562.4" y="261.6" width="72.6" height="72.8" rx="14" ry="14"/><rect x="637.4" y="261.6" width="72.6" height="72.8" rx="14" ry="14"/><rect x="709.5" y="259" width="72.6" height="72.8" rx="14" ry="14"/><rect x="784.3" y="259" width="72.6" height="72.8" rx="14" ry="14"/><rect x="859.1" y="259" width="72.6" height="72.8" rx="14" ry="14"/><rect x="933.9" y="259" width="72.6" height="72.8" rx="14" ry="14"/><rect x="1574.8" y="40.6" width="72.6" height="72.8" rx="14" ry="14"/><rect x="1649.7" y="40.6" width="72.6" height="72.8" rx="14" ry="14"/><rect x="1724.6" y="40.6" width="72.6" height="72.8" rx="14" ry="14"/><rect x="1799.5" y="40.6" width="72.6" height="72.8" rx="14" ry="14"/><rect x="1874.4" y="40.6" width="72.6" height="72.8" rx="14" ry="14"/><rect x="1949.3" y="40.6" width="72.6" height="72.8" rx="14" ry="14"/><rect x="1423.3" y="114.5" width="72.6" height="72.8" rx="14" ry="14"/><rect x="1348.3" y="114.5" width="72.6" height="72.8" rx="14" ry="14"/><rect x="1273.3" y="114.5" width="72.6" height="72.8" rx="14" ry="14"/><rect x="1198.3" y="114.5" width="72.6" height="72.8" rx="14" ry="14"/><rect x="1574.8" y="187.8" width="72.6" height="72.8" rx="14" ry="14"/><rect x="1649.7" y="187.8" width="72.6" height="72.8" rx="14" ry="14"/><rect x="1724.6" y="187.8" width="72.6" height="72.8" rx="14" ry="14"/><rect x="1423.3" y="261.2" width="72.6" height="72.8" rx="14" ry="14"/><rect x="1574.8" y="261.2" width="72.6" height="72.8" rx="14" ry="14"/><rect x="1649.7" y="261.2" width="72.6" height="72.8" rx="14" ry="14"/><rect x="1724.6" y="261.2" width="72.6" height="72.8" rx="14" ry="14"/><rect x="1423.3" y="334.8" width="72.6" height="72.8" rx="14" ry="14"/><rect x="1348.3" y="334.8" width="72.6" height="72.8" rx="14" ry="14"/><rect x="1273.3" y="334.8" width="72.6" height="72.8" rx="14" ry="14"/><rect x="1574.8" y="334.8" width="72.6" height="72.8" rx="14" ry="14"/><rect x="1649.7" y="334.8" width="72.6" height="72.8" rx="14" ry="14"/><rect x="1574.8" y="408.6" width="72.6" height="72.8" rx="14" ry="14"/><rect x="1649.7" y="408.6" width="72.6" height="72.8" rx="14" ry="14"/><rect x="1763" y="409.4" width="72.6" height="73.2" rx="14" ry="14"/><rect x="1838.3" y="409.4" width="72.6" height="73.2" rx="14" ry="14"/><rect x="1913.6" y="409.4" width="72.6" height="73.2" rx="14" ry="14"/><rect x="1988.9" y="409.4" width="72.6" height="73.2" rx="14" ry="14"/><rect x="2064.2" y="409.4" width="72.6" height="73.2" rx="14" ry="14"/><rect x="2139.5" y="409.4" width="72.6" height="73.2" rx="14" ry="14"/><rect x="2214.8" y="409.4" width="72.6" height="73.2" rx="14" ry="14"/><rect x="2290.1" y="409.4" width="72.6" height="73.2" rx="14" ry="14"/><rect x="2365.4" y="409.4" width="72.6" height="73.2" rx="14" ry="14"/><rect x="1423.3" y="482.4" width="72.6" height="72.8" rx="14" ry="14"/><rect x="1574.8" y="482.4" width="72.6" height="72.8" rx="14" ry="14"/></g>
<g fill="none" stroke="#707070" stroke-width="11.5"><rect x="409.6" y="40.9" width="74.2" height="73.4" rx="14" ry="14"/><rect x="409.6" y="114.3" width="74.2" height="73.4" rx="14" ry="14"/><rect x="409.6" y="187.7" width="74.2" height="73.4" rx="14" ry="14"/><rect x="409.6" y="261.1" width="74.2" height="73.4" rx="14" ry="14"/><rect x="1497.9" y="41.2" width="73.4" height="73.4" rx="14" ry="14"/><rect x="1497.9" y="114.6" width="73.4" height="73.4" rx="14" ry="14"/><rect x="1497.9" y="188" width="73.4" height="73.4" rx="14" ry="14"/><rect x="1497.9" y="261.4" width="73.4" height="73.4" rx="14" ry="14"/><rect x="1497.9" y="334.8" width="73.4" height="73.4" rx="14" ry="14"/><rect x="1497.9" y="408.2" width="73.4" height="73.4" rx="14" ry="14"/><rect x="1497.9" y="481.6" width="73.4" height="73.4" rx="14" ry="14"/></g>
<g font-family="'Liberation Sans', sans-serif" font-weight="bold" fill="#707070" text-anchor="middle" stroke="none">
<circle  cx="64.7" cy="74.3" r="18.2" fill="#fff" stroke="#707070" stroke-width="2.5"/><text x="64.7" y="84.2" font-size="27.5" textLength="14.6" lengthAdjust="spacingAndGlyphs">1</text>
<circle  cx="64.7" cy="147.7" r="18.2" fill="#fff" stroke="#707070" stroke-width="2.5"/><text x="64.7" y="157.6" font-size="27.5" textLength="14.6" lengthAdjust="spacingAndGlyphs">2</text>
<circle  cx="64.7" cy="221.1" r="18.2" fill="#fff" stroke="#707070" stroke-width="2.5"/><text x="64.7" y="231" font-size="27.5" textLength="14.6" lengthAdjust="spacingAndGlyphs">3</text>
<circle  cx="64.7" cy="294.5" r="18.2" fill="#fff" stroke="#707070" stroke-width="2.5"/><text x="64.7" y="304.4" font-size="27.5" textLength="14.6" lengthAdjust="spacingAndGlyphs">4</text>
<circle  cx="1078.5" cy="74.3" r="18.2" fill="#fff" stroke="#707070" stroke-width="2.5"/><text x="1078.5" y="84.2" font-size="27.5" textLength="14.6" lengthAdjust="spacingAndGlyphs">5</text>
<circle  cx="1078.5" cy="147.7" r="18.2" fill="#fff" stroke="#707070" stroke-width="2.5"/><text x="1078.5" y="157.6" font-size="27.5" textLength="14.6" lengthAdjust="spacingAndGlyphs">6</text>
<circle  cx="1078.5" cy="221.1" r="18.2" fill="#fff" stroke="#707070" stroke-width="2.5"/><text x="1078.5" y="231" font-size="27.5" textLength="14.6" lengthAdjust="spacingAndGlyphs">7</text>
<circle  cx="1078.5" cy="294.5" r="18.2" fill="#fff" stroke="#707070" stroke-width="2.5"/><text x="1078.5" y="304.4" font-size="27.5" textLength="14.6" lengthAdjust="spacingAndGlyphs">8</text>
<circle  cx="1078.5" cy="367.8" r="18.2" fill="#fff" stroke="#707070" stroke-width="2.5"/><text x="1078.5" y="377.7" font-size="27.5" textLength="14.6" lengthAdjust="spacingAndGlyphs">9</text>
<circle  cx="1078.5" cy="441.2" r="18.2" fill="#fff" stroke="#707070" stroke-width="2.5"/><text x="1078.5" y="451.1" font-size="27.5" textLength="26.4" lengthAdjust="spacingAndGlyphs">10</text>
<circle  cx="1078.5" cy="515" r="18.2" fill="#fff" stroke="#707070" stroke-width="2.5"/><text x="1078.5" y="524.9" font-size="27.5" textLength="26.4" lengthAdjust="spacingAndGlyphs">11</text>
<circle  cx="1836.6" cy="1560" r="18.1" fill="#fff" stroke="#707070" stroke-width="2.3"/><text x="1836.6" y="1569.5" font-size="26.5" textLength="14" lengthAdjust="spacingAndGlyphs">1</text>
<circle  cx="356.1" cy="470.1" r="17.6" fill="#fff" stroke="#707070" stroke-width="2.3"/><text x="356.1" y="479.6" font-size="26.5" textLength="14" lengthAdjust="spacingAndGlyphs">2</text>
<circle  cx="1358.3" cy="987" r="18.3" fill="#fff" stroke="#707070" stroke-width="2.3"/><text x="1358.3" y="996.5" font-size="26.5" textLength="14" lengthAdjust="spacingAndGlyphs">3</text>
<circle  cx="1425" cy="1258.8" r="18.6" fill="#fff" stroke="#707070" stroke-width="2.3"/><text x="1425" y="1268.3" font-size="26.5" textLength="14" lengthAdjust="spacingAndGlyphs">4</text>
<circle  cx="415.3" cy="1278.1" r="18.5" fill="#fff" stroke="#707070" stroke-width="2.3"/><text x="415.3" y="1287.6" font-size="26.5" textLength="14" lengthAdjust="spacingAndGlyphs">5</text>
<circle  cx="55.5" cy="752.6" r="18.3" fill="#fff" stroke="#707070" stroke-width="2.3"/><text x="55.5" y="762.1" font-size="26.5" textLength="14" lengthAdjust="spacingAndGlyphs">6</text>
<circle  cx="1648.5" cy="919.2" r="18.4" fill="#fff" stroke="#707070" stroke-width="2.3"/><text x="1648.5" y="928.7" font-size="26.5" textLength="14" lengthAdjust="spacingAndGlyphs">7</text>
<circle  cx="1937.9" cy="794" r="17.7" fill="#fff" stroke="#707070" stroke-width="2.3"/><text x="1937.9" y="803.5" font-size="26.5" textLength="14" lengthAdjust="spacingAndGlyphs">8</text>
<circle  cx="1671.2" cy="1233.2" r="18.4" fill="#fff" stroke="#707070" stroke-width="2.3"/><text x="1671.2" y="1242.7" font-size="26.5" textLength="14" lengthAdjust="spacingAndGlyphs">9</text>
<circle  cx="291.6" cy="1376.6" r="18.7" fill="#fff" stroke="#707070" stroke-width="2.3"/><text x="291.6" y="1386.1" font-size="26.5" textLength="27.1" lengthAdjust="spacingAndGlyphs">10</text>
<circle  cx="2215.4" cy="579.9" r="19" fill="#fff" stroke="#707070" stroke-width="2.3"/><text x="2215.4" y="589.4" font-size="26.5" textLength="27.6" lengthAdjust="spacingAndGlyphs">11</text>
</g>
</g>
</svg>
</body></html>
